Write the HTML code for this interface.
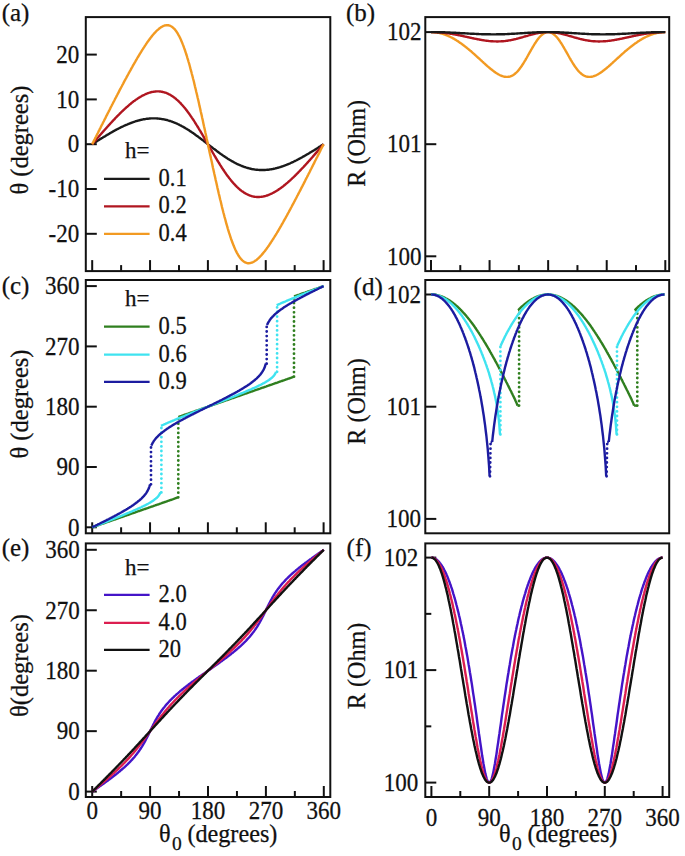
<!DOCTYPE html>
<html><head><meta charset="utf-8"><style>
html,body{margin:0;padding:0;background:#fff;}
body{width:685px;height:856px;overflow:hidden;font-family:"Liberation Serif",serif;}
svg{display:block;}
text{stroke:#111;stroke-width:0.25px;}
</style></head><body><svg width="685" height="856" viewBox="0 0 685 856" font-family='"Liberation Serif", serif' fill="#111"><rect x="85.80" y="17.10" width="244.50" height="254.00" fill="none" stroke="#111" stroke-width="2"/>
<line x1="92.20" y1="271.10" x2="92.20" y2="260.10" stroke="#111" stroke-width="2"/>
<line x1="121.12" y1="271.10" x2="121.12" y2="265.10" stroke="#111" stroke-width="2"/>
<line x1="150.05" y1="271.10" x2="150.05" y2="260.10" stroke="#111" stroke-width="2"/>
<line x1="178.98" y1="271.10" x2="178.98" y2="265.10" stroke="#111" stroke-width="2"/>
<line x1="207.90" y1="271.10" x2="207.90" y2="260.10" stroke="#111" stroke-width="2"/>
<line x1="236.83" y1="271.10" x2="236.83" y2="265.10" stroke="#111" stroke-width="2"/>
<line x1="265.75" y1="271.10" x2="265.75" y2="260.10" stroke="#111" stroke-width="2"/>
<line x1="294.68" y1="271.10" x2="294.68" y2="265.10" stroke="#111" stroke-width="2"/>
<line x1="323.60" y1="271.10" x2="323.60" y2="260.10" stroke="#111" stroke-width="2"/>
<line x1="85.80" y1="54.60" x2="96.80" y2="54.60" stroke="#111" stroke-width="2"/>
<line x1="85.80" y1="99.40" x2="96.80" y2="99.40" stroke="#111" stroke-width="2"/>
<line x1="85.80" y1="144.20" x2="96.80" y2="144.20" stroke="#111" stroke-width="2"/>
<line x1="85.80" y1="189.00" x2="96.80" y2="189.00" stroke="#111" stroke-width="2"/>
<line x1="85.80" y1="233.80" x2="96.80" y2="233.80" stroke="#111" stroke-width="2"/>
<path d="M92.2,144.2 L92.8,143.8 L93.5,143.4 L94.1,143.0 L94.8,142.6 L95.4,142.2 L96.1,141.8 L96.7,141.4 L97.3,140.9 L98.0,140.5 L98.6,140.1 L99.3,139.7 L99.9,139.3 L100.6,138.9 L101.2,138.5 L101.8,138.1 L102.5,137.7 L103.1,137.3 L103.8,137.0 L104.4,136.6 L105.1,136.2 L105.7,135.8 L106.3,135.4 L107.0,135.0 L107.6,134.6 L108.3,134.3 L108.9,133.9 L109.6,133.5 L110.2,133.1 L110.8,132.8 L111.5,132.4 L112.1,132.0 L112.8,131.7 L113.4,131.3 L114.1,130.9 L114.7,130.6 L115.3,130.2 L116.0,129.9 L116.6,129.5 L117.3,129.2 L117.9,128.9 L118.6,128.5 L119.2,128.2 L119.8,127.9 L120.5,127.6 L121.1,127.2 L121.8,126.9 L122.4,126.6 L123.1,126.3 L123.7,126.0 L124.3,125.7 L125.0,125.4 L125.6,125.1 L126.3,124.8 L126.9,124.6 L127.6,124.3 L128.2,124.0 L128.8,123.8 L129.5,123.5 L130.1,123.3 L130.8,123.0 L131.4,122.8 L132.1,122.5 L132.7,122.3 L133.3,122.1 L134.0,121.9 L134.6,121.6 L135.3,121.4 L135.9,121.2 L136.6,121.0 L137.2,120.8 L137.8,120.7 L138.5,120.5 L139.1,120.3 L139.8,120.2 L140.4,120.0 L141.1,119.8 L141.7,119.7 L142.3,119.6 L143.0,119.4 L143.6,119.3 L144.3,119.2 L144.9,119.1 L145.6,119.0 L146.2,118.9 L146.8,118.8 L147.5,118.7 L148.1,118.7 L148.8,118.6 L149.4,118.5 L150.1,118.5 L150.7,118.4 L151.3,118.4 L152.0,118.4 L152.6,118.4 L153.3,118.4 L153.9,118.4 L154.5,118.4 L155.2,118.4 L155.8,118.4 L156.5,118.4 L157.1,118.5 L157.8,118.5 L158.4,118.6 L159.0,118.6 L159.7,118.7 L160.3,118.8 L161.0,118.9 L161.6,119.0 L162.3,119.1 L162.9,119.2 L163.5,119.3 L164.2,119.4 L164.8,119.6 L165.5,119.7 L166.1,119.9 L166.8,120.0 L167.4,120.2 L168.0,120.4 L168.7,120.6 L169.3,120.8 L170.0,121.0 L170.6,121.2 L171.3,121.4 L171.9,121.6 L172.5,121.9 L173.2,122.1 L173.8,122.4 L174.5,122.6 L175.1,122.9 L175.8,123.2 L176.4,123.4 L177.0,123.7 L177.7,124.0 L178.3,124.3 L179.0,124.6 L179.6,125.0 L180.3,125.3 L180.9,125.6 L181.5,126.0 L182.2,126.3 L182.8,126.7 L183.5,127.0 L184.1,127.4 L184.8,127.8 L185.4,128.2 L186.0,128.5 L186.7,128.9 L187.3,129.3 L188.0,129.7 L188.6,130.1 L189.3,130.6 L189.9,131.0 L190.5,131.4 L191.2,131.8 L191.8,132.3 L192.5,132.7 L193.1,133.1 L193.8,133.6 L194.4,134.1 L195.0,134.5 L195.7,135.0 L196.3,135.4 L197.0,135.9 L197.6,136.4 L198.3,136.8 L198.9,137.3 L199.5,137.8 L200.2,138.3 L200.8,138.8 L201.5,139.3 L202.1,139.7 L202.8,140.2 L203.4,140.7 L204.0,141.2 L204.7,141.7 L205.3,142.2 L206.0,142.7 L206.6,143.2 L207.3,143.7 L207.9,144.2 L208.5,144.7 L209.2,145.2 L209.8,145.7 L210.5,146.2 L211.1,146.7 L211.8,147.2 L212.4,147.7 L213.0,148.2 L213.7,148.7 L214.3,149.1 L215.0,149.6 L215.6,150.1 L216.3,150.6 L216.9,151.1 L217.5,151.6 L218.2,152.0 L218.8,152.5 L219.5,153.0 L220.1,153.4 L220.8,153.9 L221.4,154.3 L222.0,154.8 L222.7,155.3 L223.3,155.7 L224.0,156.1 L224.6,156.6 L225.3,157.0 L225.9,157.4 L226.5,157.8 L227.2,158.3 L227.8,158.7 L228.5,159.1 L229.1,159.5 L229.8,159.9 L230.4,160.2 L231.0,160.6 L231.7,161.0 L232.3,161.4 L233.0,161.7 L233.6,162.1 L234.3,162.4 L234.9,162.8 L235.5,163.1 L236.2,163.4 L236.8,163.8 L237.5,164.1 L238.1,164.4 L238.8,164.7 L239.4,165.0 L240.0,165.2 L240.7,165.5 L241.3,165.8 L242.0,166.0 L242.6,166.3 L243.3,166.5 L243.9,166.8 L244.5,167.0 L245.2,167.2 L245.8,167.4 L246.5,167.6 L247.1,167.8 L247.8,168.0 L248.4,168.2 L249.0,168.4 L249.7,168.5 L250.3,168.7 L251.0,168.8 L251.6,169.0 L252.3,169.1 L252.9,169.2 L253.5,169.3 L254.2,169.4 L254.8,169.5 L255.5,169.6 L256.1,169.7 L256.8,169.8 L257.4,169.8 L258.0,169.9 L258.7,169.9 L259.3,170.0 L260.0,170.0 L260.6,170.0 L261.3,170.0 L261.9,170.0 L262.5,170.0 L263.2,170.0 L263.8,170.0 L264.5,170.0 L265.1,170.0 L265.8,169.9 L266.4,169.9 L267.0,169.8 L267.7,169.7 L268.3,169.7 L269.0,169.6 L269.6,169.5 L270.2,169.4 L270.9,169.3 L271.5,169.2 L272.2,169.1 L272.8,169.0 L273.5,168.8 L274.1,168.7 L274.7,168.6 L275.4,168.4 L276.0,168.2 L276.7,168.1 L277.3,167.9 L278.0,167.7 L278.6,167.6 L279.2,167.4 L279.9,167.2 L280.5,167.0 L281.2,166.8 L281.8,166.5 L282.5,166.3 L283.1,166.1 L283.7,165.9 L284.4,165.6 L285.0,165.4 L285.7,165.1 L286.3,164.9 L287.0,164.6 L287.6,164.4 L288.2,164.1 L288.9,163.8 L289.5,163.6 L290.2,163.3 L290.8,163.0 L291.5,162.7 L292.1,162.4 L292.7,162.1 L293.4,161.8 L294.0,161.5 L294.7,161.2 L295.3,160.8 L296.0,160.5 L296.6,160.2 L297.2,159.9 L297.9,159.5 L298.5,159.2 L299.2,158.9 L299.8,158.5 L300.5,158.2 L301.1,157.8 L301.7,157.5 L302.4,157.1 L303.0,156.7 L303.7,156.4 L304.3,156.0 L305.0,155.6 L305.6,155.3 L306.2,154.9 L306.9,154.5 L307.5,154.1 L308.2,153.8 L308.8,153.4 L309.5,153.0 L310.1,152.6 L310.7,152.2 L311.4,151.8 L312.0,151.4 L312.7,151.1 L313.3,150.7 L314.0,150.3 L314.6,149.9 L315.2,149.5 L315.9,149.1 L316.5,148.7 L317.2,148.3 L317.8,147.9 L318.5,147.5 L319.1,147.0 L319.7,146.6 L320.4,146.2 L321.0,145.8 L321.7,145.4 L322.3,145.0 L323.0,144.6 L323.6,144.2" fill="none" stroke="#1a1a1a" stroke-width="2.4" stroke-linejoin="round"/>
<path d="M92.2,144.2 L92.8,143.5 L93.5,142.7 L94.1,142.0 L94.8,141.2 L95.4,140.5 L96.1,139.7 L96.7,139.0 L97.3,138.2 L98.0,137.5 L98.6,136.8 L99.3,136.0 L99.9,135.3 L100.6,134.5 L101.2,133.8 L101.8,133.1 L102.5,132.3 L103.1,131.6 L103.8,130.9 L104.4,130.1 L105.1,129.4 L105.7,128.7 L106.3,128.0 L107.0,127.3 L107.6,126.5 L108.3,125.8 L108.9,125.1 L109.6,124.4 L110.2,123.7 L110.8,123.0 L111.5,122.3 L112.1,121.6 L112.8,120.9 L113.4,120.2 L114.1,119.6 L114.7,118.9 L115.3,118.2 L116.0,117.5 L116.6,116.9 L117.3,116.2 L117.9,115.5 L118.6,114.9 L119.2,114.3 L119.8,113.6 L120.5,113.0 L121.1,112.3 L121.8,111.7 L122.4,111.1 L123.1,110.5 L123.7,109.9 L124.3,109.3 L125.0,108.7 L125.6,108.1 L126.3,107.5 L126.9,106.9 L127.6,106.4 L128.2,105.8 L128.8,105.3 L129.5,104.7 L130.1,104.2 L130.8,103.7 L131.4,103.1 L132.1,102.6 L132.7,102.1 L133.3,101.6 L134.0,101.1 L134.6,100.7 L135.3,100.2 L135.9,99.7 L136.6,99.3 L137.2,98.9 L137.8,98.4 L138.5,98.0 L139.1,97.6 L139.8,97.2 L140.4,96.8 L141.1,96.5 L141.7,96.1 L142.3,95.7 L143.0,95.4 L143.6,95.1 L144.3,94.8 L144.9,94.5 L145.6,94.2 L146.2,93.9 L146.8,93.6 L147.5,93.4 L148.1,93.1 L148.8,92.9 L149.4,92.7 L150.1,92.5 L150.7,92.3 L151.3,92.2 L152.0,92.0 L152.6,91.9 L153.3,91.8 L153.9,91.7 L154.5,91.6 L155.2,91.5 L155.8,91.5 L156.5,91.4 L157.1,91.4 L157.8,91.4 L158.4,91.4 L159.0,91.4 L159.7,91.5 L160.3,91.5 L161.0,91.6 L161.6,91.7 L162.3,91.8 L162.9,92.0 L163.5,92.1 L164.2,92.3 L164.8,92.5 L165.5,92.7 L166.1,92.9 L166.8,93.2 L167.4,93.5 L168.0,93.7 L168.7,94.1 L169.3,94.4 L170.0,94.7 L170.6,95.1 L171.3,95.5 L171.9,95.9 L172.5,96.3 L173.2,96.8 L173.8,97.2 L174.5,97.7 L175.1,98.2 L175.8,98.7 L176.4,99.3 L177.0,99.8 L177.7,100.4 L178.3,101.0 L179.0,101.6 L179.6,102.3 L180.3,102.9 L180.9,103.6 L181.5,104.3 L182.2,105.0 L182.8,105.7 L183.5,106.5 L184.1,107.2 L184.8,108.0 L185.4,108.8 L186.0,109.6 L186.7,110.4 L187.3,111.3 L188.0,112.2 L188.6,113.0 L189.3,113.9 L189.9,114.8 L190.5,115.7 L191.2,116.7 L191.8,117.6 L192.5,118.6 L193.1,119.6 L193.8,120.5 L194.4,121.5 L195.0,122.5 L195.7,123.6 L196.3,124.6 L197.0,125.6 L197.6,126.7 L198.3,127.7 L198.9,128.8 L199.5,129.8 L200.2,130.9 L200.8,132.0 L201.5,133.1 L202.1,134.2 L202.8,135.3 L203.4,136.4 L204.0,137.5 L204.7,138.6 L205.3,139.7 L206.0,140.8 L206.6,142.0 L207.3,143.1 L207.9,144.2 L208.5,145.3 L209.2,146.4 L209.8,147.6 L210.5,148.7 L211.1,149.8 L211.8,150.9 L212.4,152.0 L213.0,153.1 L213.7,154.2 L214.3,155.3 L215.0,156.4 L215.6,157.5 L216.3,158.6 L216.9,159.6 L217.5,160.7 L218.2,161.7 L218.8,162.8 L219.5,163.8 L220.1,164.8 L220.8,165.9 L221.4,166.9 L222.0,167.9 L222.7,168.8 L223.3,169.8 L224.0,170.8 L224.6,171.7 L225.3,172.7 L225.9,173.6 L226.5,174.5 L227.2,175.4 L227.8,176.2 L228.5,177.1 L229.1,178.0 L229.8,178.8 L230.4,179.6 L231.0,180.4 L231.7,181.2 L232.3,181.9 L233.0,182.7 L233.6,183.4 L234.3,184.1 L234.9,184.8 L235.5,185.5 L236.2,186.1 L236.8,186.8 L237.5,187.4 L238.1,188.0 L238.8,188.6 L239.4,189.1 L240.0,189.7 L240.7,190.2 L241.3,190.7 L242.0,191.2 L242.6,191.6 L243.3,192.1 L243.9,192.5 L244.5,192.9 L245.2,193.3 L245.8,193.7 L246.5,194.0 L247.1,194.3 L247.8,194.7 L248.4,194.9 L249.0,195.2 L249.7,195.5 L250.3,195.7 L251.0,195.9 L251.6,196.1 L252.3,196.3 L252.9,196.4 L253.5,196.6 L254.2,196.7 L254.8,196.8 L255.5,196.9 L256.1,196.9 L256.8,197.0 L257.4,197.0 L258.0,197.0 L258.7,197.0 L259.3,197.0 L260.0,196.9 L260.6,196.9 L261.3,196.8 L261.9,196.7 L262.5,196.6 L263.2,196.5 L263.8,196.4 L264.5,196.2 L265.1,196.1 L265.8,195.9 L266.4,195.7 L267.0,195.5 L267.7,195.3 L268.3,195.0 L269.0,194.8 L269.6,194.5 L270.2,194.2 L270.9,193.9 L271.5,193.6 L272.2,193.3 L272.8,193.0 L273.5,192.7 L274.1,192.3 L274.7,191.9 L275.4,191.6 L276.0,191.2 L276.7,190.8 L277.3,190.4 L278.0,190.0 L278.6,189.5 L279.2,189.1 L279.9,188.7 L280.5,188.2 L281.2,187.7 L281.8,187.3 L282.5,186.8 L283.1,186.3 L283.7,185.8 L284.4,185.3 L285.0,184.7 L285.7,184.2 L286.3,183.7 L287.0,183.1 L287.6,182.6 L288.2,182.0 L288.9,181.5 L289.5,180.9 L290.2,180.3 L290.8,179.7 L291.5,179.1 L292.1,178.5 L292.7,177.9 L293.4,177.3 L294.0,176.7 L294.7,176.1 L295.3,175.4 L296.0,174.8 L296.6,174.1 L297.2,173.5 L297.9,172.9 L298.5,172.2 L299.2,171.5 L299.8,170.9 L300.5,170.2 L301.1,169.5 L301.7,168.8 L302.4,168.2 L303.0,167.5 L303.7,166.8 L304.3,166.1 L305.0,165.4 L305.6,164.7 L306.2,164.0 L306.9,163.3 L307.5,162.6 L308.2,161.9 L308.8,161.1 L309.5,160.4 L310.1,159.7 L310.7,159.0 L311.4,158.3 L312.0,157.5 L312.7,156.8 L313.3,156.1 L314.0,155.3 L314.6,154.6 L315.2,153.9 L315.9,153.1 L316.5,152.4 L317.2,151.6 L317.8,150.9 L318.5,150.2 L319.1,149.4 L319.7,148.7 L320.4,147.9 L321.0,147.2 L321.7,146.4 L322.3,145.7 L323.0,144.9 L323.6,144.2" fill="none" stroke="#b01620" stroke-width="2.4" stroke-linejoin="round"/>
<path d="M92.2,144.2 L92.8,142.9 L93.5,141.6 L94.1,140.4 L94.8,139.1 L95.4,137.8 L96.1,136.5 L96.7,135.2 L97.3,134.0 L98.0,132.7 L98.6,131.4 L99.3,130.1 L99.9,128.9 L100.6,127.6 L101.2,126.3 L101.8,125.0 L102.5,123.8 L103.1,122.5 L103.8,121.2 L104.4,119.9 L105.1,118.7 L105.7,117.4 L106.3,116.1 L107.0,114.9 L107.6,113.6 L108.3,112.3 L108.9,111.1 L109.6,109.8 L110.2,108.6 L110.8,107.3 L111.5,106.0 L112.1,104.8 L112.8,103.5 L113.4,102.3 L114.1,101.0 L114.7,99.8 L115.3,98.5 L116.0,97.3 L116.6,96.1 L117.3,94.8 L117.9,93.6 L118.6,92.4 L119.2,91.1 L119.8,89.9 L120.5,88.7 L121.1,87.5 L121.8,86.2 L122.4,85.0 L123.1,83.8 L123.7,82.6 L124.3,81.4 L125.0,80.2 L125.6,79.0 L126.3,77.8 L126.9,76.6 L127.6,75.4 L128.2,74.3 L128.8,73.1 L129.5,71.9 L130.1,70.8 L130.8,69.6 L131.4,68.4 L132.1,67.3 L132.7,66.1 L133.3,65.0 L134.0,63.9 L134.6,62.8 L135.3,61.6 L135.9,60.5 L136.6,59.4 L137.2,58.3 L137.8,57.2 L138.5,56.2 L139.1,55.1 L139.8,54.0 L140.4,53.0 L141.1,51.9 L141.7,50.9 L142.3,49.9 L143.0,48.9 L143.6,47.9 L144.3,46.9 L144.9,45.9 L145.6,44.9 L146.2,44.0 L146.8,43.0 L147.5,42.1 L148.1,41.2 L148.8,40.3 L149.4,39.4 L150.1,38.6 L150.7,37.7 L151.3,36.9 L152.0,36.1 L152.6,35.3 L153.3,34.5 L153.9,33.8 L154.5,33.1 L155.2,32.4 L155.8,31.7 L156.5,31.0 L157.1,30.4 L157.8,29.8 L158.4,29.3 L159.0,28.7 L159.7,28.2 L160.3,27.8 L161.0,27.3 L161.6,26.9 L162.3,26.6 L162.9,26.2 L163.5,25.9 L164.2,25.7 L164.8,25.5 L165.5,25.4 L166.1,25.3 L166.8,25.2 L167.4,25.2 L168.0,25.2 L168.7,25.3 L169.3,25.5 L170.0,25.7 L170.6,26.0 L171.3,26.3 L171.9,26.8 L172.5,27.2 L173.2,27.8 L173.8,28.4 L174.5,29.0 L175.1,29.8 L175.8,30.6 L176.4,31.5 L177.0,32.4 L177.7,33.5 L178.3,34.6 L179.0,35.8 L179.6,37.0 L180.3,38.4 L180.9,39.8 L181.5,41.2 L182.2,42.8 L182.8,44.4 L183.5,46.1 L184.1,47.9 L184.8,49.7 L185.4,51.6 L186.0,53.5 L186.7,55.5 L187.3,57.6 L188.0,59.8 L188.6,62.0 L189.3,64.2 L189.9,66.5 L190.5,68.9 L191.2,71.3 L191.8,73.7 L192.5,76.2 L193.1,78.7 L193.8,81.3 L194.4,83.9 L195.0,86.6 L195.7,89.2 L196.3,92.0 L197.0,94.7 L197.6,97.5 L198.3,100.3 L198.9,103.1 L199.5,105.9 L200.2,108.8 L200.8,111.7 L201.5,114.6 L202.1,117.5 L202.8,120.4 L203.4,123.4 L204.0,126.3 L204.7,129.3 L205.3,132.3 L206.0,135.2 L206.6,138.2 L207.3,141.2 L207.9,144.2 L208.5,147.2 L209.2,150.2 L209.8,153.2 L210.5,156.1 L211.1,159.1 L211.8,162.1 L212.4,165.0 L213.0,168.0 L213.7,170.9 L214.3,173.8 L215.0,176.7 L215.6,179.6 L216.3,182.5 L216.9,185.3 L217.5,188.1 L218.2,190.9 L218.8,193.7 L219.5,196.4 L220.1,199.2 L220.8,201.8 L221.4,204.5 L222.0,207.1 L222.7,209.7 L223.3,212.2 L224.0,214.7 L224.6,217.1 L225.3,219.5 L225.9,221.9 L226.5,224.2 L227.2,226.4 L227.8,228.6 L228.5,230.8 L229.1,232.9 L229.8,234.9 L230.4,236.8 L231.0,238.7 L231.7,240.5 L232.3,242.3 L233.0,244.0 L233.6,245.6 L234.3,247.2 L234.9,248.6 L235.5,250.0 L236.2,251.4 L236.8,252.6 L237.5,253.8 L238.1,254.9 L238.8,256.0 L239.4,256.9 L240.0,257.8 L240.7,258.6 L241.3,259.4 L242.0,260.0 L242.6,260.6 L243.3,261.2 L243.9,261.6 L244.5,262.1 L245.2,262.4 L245.8,262.7 L246.5,262.9 L247.1,263.1 L247.8,263.2 L248.4,263.2 L249.0,263.2 L249.7,263.1 L250.3,263.0 L251.0,262.9 L251.6,262.7 L252.3,262.5 L252.9,262.2 L253.5,261.8 L254.2,261.5 L254.8,261.1 L255.5,260.6 L256.1,260.2 L256.8,259.7 L257.4,259.1 L258.0,258.6 L258.7,258.0 L259.3,257.4 L260.0,256.7 L260.6,256.0 L261.3,255.3 L261.9,254.6 L262.5,253.9 L263.2,253.1 L263.8,252.3 L264.5,251.5 L265.1,250.7 L265.8,249.8 L266.4,249.0 L267.0,248.1 L267.7,247.2 L268.3,246.3 L269.0,245.4 L269.6,244.4 L270.2,243.5 L270.9,242.5 L271.5,241.5 L272.2,240.5 L272.8,239.5 L273.5,238.5 L274.1,237.5 L274.7,236.5 L275.4,235.4 L276.0,234.4 L276.7,233.3 L277.3,232.2 L278.0,231.2 L278.6,230.1 L279.2,229.0 L279.9,227.9 L280.5,226.8 L281.2,225.6 L281.8,224.5 L282.5,223.4 L283.1,222.3 L283.7,221.1 L284.4,220.0 L285.0,218.8 L285.7,217.6 L286.3,216.5 L287.0,215.3 L287.6,214.1 L288.2,213.0 L288.9,211.8 L289.5,210.6 L290.2,209.4 L290.8,208.2 L291.5,207.0 L292.1,205.8 L292.7,204.6 L293.4,203.4 L294.0,202.2 L294.7,200.9 L295.3,199.7 L296.0,198.5 L296.6,197.3 L297.2,196.0 L297.9,194.8 L298.5,193.6 L299.2,192.3 L299.8,191.1 L300.5,189.9 L301.1,188.6 L301.7,187.4 L302.4,186.1 L303.0,184.9 L303.7,183.6 L304.3,182.4 L305.0,181.1 L305.6,179.8 L306.2,178.6 L306.9,177.3 L307.5,176.1 L308.2,174.8 L308.8,173.5 L309.5,172.3 L310.1,171.0 L310.7,169.7 L311.4,168.5 L312.0,167.2 L312.7,165.9 L313.3,164.6 L314.0,163.4 L314.6,162.1 L315.2,160.8 L315.9,159.5 L316.5,158.3 L317.2,157.0 L317.8,155.7 L318.5,154.4 L319.1,153.2 L319.7,151.9 L320.4,150.6 L321.0,149.3 L321.7,148.0 L322.3,146.8 L323.0,145.5 L323.6,144.2" fill="none" stroke="#f29a22" stroke-width="2.4" stroke-linejoin="round"/>
<rect x="425.30" y="17.10" width="243.90" height="254.00" fill="none" stroke="#111" stroke-width="2"/>
<line x1="431.00" y1="271.10" x2="431.00" y2="260.10" stroke="#111" stroke-width="2"/>
<line x1="460.29" y1="271.10" x2="460.29" y2="265.10" stroke="#111" stroke-width="2"/>
<line x1="489.57" y1="271.10" x2="489.57" y2="260.10" stroke="#111" stroke-width="2"/>
<line x1="518.86" y1="271.10" x2="518.86" y2="265.10" stroke="#111" stroke-width="2"/>
<line x1="548.15" y1="271.10" x2="548.15" y2="260.10" stroke="#111" stroke-width="2"/>
<line x1="577.44" y1="271.10" x2="577.44" y2="265.10" stroke="#111" stroke-width="2"/>
<line x1="606.72" y1="271.10" x2="606.72" y2="260.10" stroke="#111" stroke-width="2"/>
<line x1="636.01" y1="271.10" x2="636.01" y2="265.10" stroke="#111" stroke-width="2"/>
<line x1="665.30" y1="271.10" x2="665.30" y2="260.10" stroke="#111" stroke-width="2"/>
<line x1="425.30" y1="32.10" x2="436.30" y2="32.10" stroke="#111" stroke-width="2"/>
<line x1="425.30" y1="144.20" x2="436.30" y2="144.20" stroke="#111" stroke-width="2"/>
<line x1="425.30" y1="256.30" x2="436.30" y2="256.30" stroke="#111" stroke-width="2"/>
<path d="M431.0,32.1 L431.7,32.1 L432.3,32.1 L433.0,32.2 L433.6,32.2 L434.3,32.2 L434.9,32.3 L435.6,32.4 L436.2,32.5 L436.9,32.6 L437.5,32.7 L438.2,32.8 L438.8,32.9 L439.5,33.0 L440.1,33.2 L440.8,33.3 L441.4,33.5 L442.1,33.7 L442.7,33.9 L443.4,34.1 L444.0,34.3 L444.7,34.5 L445.3,34.8 L446.0,35.0 L446.6,35.3 L447.3,35.5 L447.9,35.8 L448.6,36.1 L449.2,36.4 L449.9,36.7 L450.5,37.0 L451.2,37.3 L451.8,37.7 L452.5,38.0 L453.1,38.4 L453.8,38.7 L454.4,39.1 L455.1,39.5 L455.7,39.9 L456.4,40.3 L457.0,40.7 L457.7,41.1 L458.3,41.5 L459.0,42.0 L459.6,42.4 L460.3,42.9 L460.9,43.3 L461.6,43.8 L462.2,44.3 L462.9,44.8 L463.5,45.3 L464.2,45.8 L464.8,46.3 L465.5,46.8 L466.1,47.3 L466.8,47.8 L467.4,48.3 L468.1,48.9 L468.7,49.4 L469.4,50.0 L470.1,50.5 L470.7,51.1 L471.4,51.6 L472.0,52.2 L472.7,52.8 L473.3,53.3 L474.0,53.9 L474.6,54.5 L475.3,55.1 L475.9,55.7 L476.6,56.3 L477.2,56.9 L477.9,57.5 L478.5,58.0 L479.2,58.6 L479.8,59.2 L480.5,59.8 L481.1,60.4 L481.8,61.0 L482.4,61.6 L483.1,62.2 L483.7,62.8 L484.4,63.4 L485.0,64.0 L485.7,64.6 L486.3,65.2 L487.0,65.7 L487.6,66.3 L488.3,66.9 L488.9,67.4 L489.6,68.0 L490.2,68.5 L490.9,69.0 L491.5,69.6 L492.2,70.1 L492.8,70.6 L493.5,71.1 L494.1,71.6 L494.8,72.0 L495.4,72.5 L496.1,72.9 L496.7,73.3 L497.4,73.7 L498.0,74.1 L498.7,74.5 L499.3,74.8 L500.0,75.2 L500.6,75.5 L501.3,75.7 L501.9,76.0 L502.6,76.2 L503.2,76.4 L503.9,76.6 L504.5,76.7 L505.2,76.8 L505.8,76.9 L506.5,76.9 L507.1,76.9 L507.8,76.9 L508.4,76.8 L509.1,76.7 L509.8,76.6 L510.4,76.4 L511.1,76.1 L511.7,75.9 L512.4,75.5 L513.0,75.2 L513.7,74.7 L514.3,74.3 L515.0,73.8 L515.6,73.2 L516.3,72.6 L516.9,72.0 L517.6,71.3 L518.2,70.6 L518.9,69.8 L519.5,69.0 L520.2,68.1 L520.8,67.2 L521.5,66.3 L522.1,65.3 L522.8,64.3 L523.4,63.3 L524.1,62.2 L524.7,61.2 L525.4,60.1 L526.0,58.9 L526.7,57.8 L527.3,56.7 L528.0,55.5 L528.6,54.3 L529.3,53.2 L529.9,52.0 L530.6,50.9 L531.2,49.7 L531.9,48.6 L532.5,47.5 L533.2,46.4 L533.8,45.3 L534.5,44.2 L535.1,43.2 L535.8,42.2 L536.4,41.3 L537.1,40.3 L537.7,39.4 L538.4,38.6 L539.0,37.8 L539.7,37.0 L540.3,36.3 L541.0,35.7 L541.6,35.1 L542.3,34.5 L542.9,34.0 L543.6,33.6 L544.2,33.2 L544.9,32.9 L545.5,32.6 L546.2,32.4 L546.8,32.2 L547.5,32.1 L548.1,32.1 L548.8,32.1 L549.5,32.2 L550.1,32.4 L550.8,32.6 L551.4,32.9 L552.1,33.2 L552.7,33.6 L553.4,34.0 L554.0,34.5 L554.7,35.1 L555.3,35.7 L556.0,36.3 L556.6,37.0 L557.3,37.8 L557.9,38.6 L558.6,39.4 L559.2,40.3 L559.9,41.3 L560.5,42.2 L561.2,43.2 L561.8,44.2 L562.5,45.3 L563.1,46.4 L563.8,47.5 L564.4,48.6 L565.1,49.7 L565.7,50.9 L566.4,52.0 L567.0,53.2 L567.7,54.3 L568.3,55.5 L569.0,56.7 L569.6,57.8 L570.3,58.9 L570.9,60.1 L571.6,61.2 L572.2,62.2 L572.9,63.3 L573.5,64.3 L574.2,65.3 L574.8,66.3 L575.5,67.2 L576.1,68.1 L576.8,69.0 L577.4,69.8 L578.1,70.6 L578.7,71.3 L579.4,72.0 L580.0,72.6 L580.7,73.2 L581.3,73.8 L582.0,74.3 L582.6,74.7 L583.3,75.2 L583.9,75.5 L584.6,75.9 L585.2,76.1 L585.9,76.4 L586.5,76.6 L587.2,76.7 L587.9,76.8 L588.5,76.9 L589.2,76.9 L589.8,76.9 L590.5,76.9 L591.1,76.8 L591.8,76.7 L592.4,76.6 L593.1,76.4 L593.7,76.2 L594.4,76.0 L595.0,75.7 L595.7,75.5 L596.3,75.2 L597.0,74.8 L597.6,74.5 L598.3,74.1 L598.9,73.7 L599.6,73.3 L600.2,72.9 L600.9,72.5 L601.5,72.0 L602.2,71.6 L602.8,71.1 L603.5,70.6 L604.1,70.1 L604.8,69.6 L605.4,69.0 L606.1,68.5 L606.7,68.0 L607.4,67.4 L608.0,66.9 L608.7,66.3 L609.3,65.7 L610.0,65.2 L610.6,64.6 L611.3,64.0 L611.9,63.4 L612.6,62.8 L613.2,62.2 L613.9,61.6 L614.5,61.0 L615.2,60.4 L615.8,59.8 L616.5,59.2 L617.1,58.6 L617.8,58.0 L618.4,57.5 L619.1,56.9 L619.7,56.3 L620.4,55.7 L621.0,55.1 L621.7,54.5 L622.3,53.9 L623.0,53.3 L623.6,52.8 L624.3,52.2 L624.9,51.6 L625.6,51.1 L626.2,50.5 L626.9,50.0 L627.6,49.4 L628.2,48.9 L628.9,48.3 L629.5,47.8 L630.2,47.3 L630.8,46.8 L631.5,46.3 L632.1,45.8 L632.8,45.3 L633.4,44.8 L634.1,44.3 L634.7,43.8 L635.4,43.3 L636.0,42.9 L636.7,42.4 L637.3,42.0 L638.0,41.5 L638.6,41.1 L639.3,40.7 L639.9,40.3 L640.6,39.9 L641.2,39.5 L641.9,39.1 L642.5,38.7 L643.2,38.4 L643.8,38.0 L644.5,37.7 L645.1,37.3 L645.8,37.0 L646.4,36.7 L647.1,36.4 L647.7,36.1 L648.4,35.8 L649.0,35.5 L649.7,35.3 L650.3,35.0 L651.0,34.8 L651.6,34.5 L652.3,34.3 L652.9,34.1 L653.6,33.9 L654.2,33.7 L654.9,33.5 L655.5,33.3 L656.2,33.2 L656.8,33.0 L657.5,32.9 L658.1,32.8 L658.8,32.7 L659.4,32.6 L660.1,32.5 L660.7,32.4 L661.4,32.3 L662.0,32.2 L662.7,32.2 L663.3,32.2 L664.0,32.1 L664.6,32.1 L665.3,32.1" fill="none" stroke="#f29a22" stroke-width="2.4" stroke-linejoin="round"/>
<path d="M431.0,32.1 L431.7,32.1 L432.3,32.1 L433.0,32.1 L433.6,32.1 L434.3,32.1 L434.9,32.2 L435.6,32.2 L436.2,32.2 L436.9,32.3 L437.5,32.3 L438.2,32.3 L438.8,32.4 L439.5,32.4 L440.1,32.5 L440.8,32.5 L441.4,32.6 L442.1,32.6 L442.7,32.7 L443.4,32.8 L444.0,32.8 L444.7,32.9 L445.3,33.0 L446.0,33.1 L446.6,33.2 L447.3,33.2 L447.9,33.3 L448.6,33.4 L449.2,33.5 L449.9,33.6 L450.5,33.7 L451.2,33.8 L451.8,33.9 L452.5,34.0 L453.1,34.2 L453.8,34.3 L454.4,34.4 L455.1,34.5 L455.7,34.6 L456.4,34.8 L457.0,34.9 L457.7,35.0 L458.3,35.1 L459.0,35.3 L459.6,35.4 L460.3,35.5 L460.9,35.7 L461.6,35.8 L462.2,35.9 L462.9,36.1 L463.5,36.2 L464.2,36.4 L464.8,36.5 L465.5,36.6 L466.1,36.8 L466.8,36.9 L467.4,37.1 L468.1,37.2 L468.7,37.4 L469.4,37.5 L470.1,37.6 L470.7,37.8 L471.4,37.9 L472.0,38.1 L472.7,38.2 L473.3,38.3 L474.0,38.5 L474.6,38.6 L475.3,38.8 L475.9,38.9 L476.6,39.0 L477.2,39.2 L477.9,39.3 L478.5,39.4 L479.2,39.5 L479.8,39.7 L480.5,39.8 L481.1,39.9 L481.8,40.0 L482.4,40.1 L483.1,40.2 L483.7,40.3 L484.4,40.4 L485.0,40.5 L485.7,40.6 L486.3,40.7 L487.0,40.8 L487.6,40.9 L488.3,40.9 L488.9,41.0 L489.6,41.1 L490.2,41.1 L490.9,41.2 L491.5,41.2 L492.2,41.3 L492.8,41.3 L493.5,41.4 L494.1,41.4 L494.8,41.4 L495.4,41.4 L496.1,41.4 L496.7,41.5 L497.4,41.5 L498.0,41.5 L498.7,41.4 L499.3,41.4 L500.0,41.4 L500.6,41.4 L501.3,41.3 L501.9,41.3 L502.6,41.3 L503.2,41.2 L503.9,41.1 L504.5,41.1 L505.2,41.0 L505.8,40.9 L506.5,40.8 L507.1,40.7 L507.8,40.7 L508.4,40.5 L509.1,40.4 L509.8,40.3 L510.4,40.2 L511.1,40.1 L511.7,39.9 L512.4,39.8 L513.0,39.7 L513.7,39.5 L514.3,39.4 L515.0,39.2 L515.6,39.1 L516.3,38.9 L516.9,38.7 L517.6,38.6 L518.2,38.4 L518.9,38.2 L519.5,38.0 L520.2,37.8 L520.8,37.7 L521.5,37.5 L522.1,37.3 L522.8,37.1 L523.4,36.9 L524.1,36.7 L524.7,36.5 L525.4,36.3 L526.0,36.1 L526.7,36.0 L527.3,35.8 L528.0,35.6 L528.6,35.4 L529.3,35.2 L529.9,35.0 L530.6,34.8 L531.2,34.7 L531.9,34.5 L532.5,34.3 L533.2,34.2 L533.8,34.0 L534.5,33.8 L535.1,33.7 L535.8,33.5 L536.4,33.4 L537.1,33.3 L537.7,33.1 L538.4,33.0 L539.0,32.9 L539.7,32.8 L540.3,32.7 L541.0,32.6 L541.6,32.5 L542.3,32.4 L542.9,32.4 L543.6,32.3 L544.2,32.3 L544.9,32.2 L545.5,32.2 L546.2,32.1 L546.8,32.1 L547.5,32.1 L548.1,32.1 L548.8,32.1 L549.5,32.1 L550.1,32.1 L550.8,32.2 L551.4,32.2 L552.1,32.3 L552.7,32.3 L553.4,32.4 L554.0,32.4 L554.7,32.5 L555.3,32.6 L556.0,32.7 L556.6,32.8 L557.3,32.9 L557.9,33.0 L558.6,33.1 L559.2,33.3 L559.9,33.4 L560.5,33.5 L561.2,33.7 L561.8,33.8 L562.5,34.0 L563.1,34.2 L563.8,34.3 L564.4,34.5 L565.1,34.7 L565.7,34.8 L566.4,35.0 L567.0,35.2 L567.7,35.4 L568.3,35.6 L569.0,35.8 L569.6,36.0 L570.3,36.1 L570.9,36.3 L571.6,36.5 L572.2,36.7 L572.9,36.9 L573.5,37.1 L574.2,37.3 L574.8,37.5 L575.5,37.7 L576.1,37.8 L576.8,38.0 L577.4,38.2 L578.1,38.4 L578.7,38.6 L579.4,38.7 L580.0,38.9 L580.7,39.1 L581.3,39.2 L582.0,39.4 L582.6,39.5 L583.3,39.7 L583.9,39.8 L584.6,39.9 L585.2,40.1 L585.9,40.2 L586.5,40.3 L587.2,40.4 L587.9,40.5 L588.5,40.7 L589.2,40.7 L589.8,40.8 L590.5,40.9 L591.1,41.0 L591.8,41.1 L592.4,41.1 L593.1,41.2 L593.7,41.3 L594.4,41.3 L595.0,41.3 L595.7,41.4 L596.3,41.4 L597.0,41.4 L597.6,41.4 L598.3,41.5 L598.9,41.5 L599.6,41.5 L600.2,41.4 L600.9,41.4 L601.5,41.4 L602.2,41.4 L602.8,41.4 L603.5,41.3 L604.1,41.3 L604.8,41.2 L605.4,41.2 L606.1,41.1 L606.7,41.1 L607.4,41.0 L608.0,40.9 L608.7,40.9 L609.3,40.8 L610.0,40.7 L610.6,40.6 L611.3,40.5 L611.9,40.4 L612.6,40.3 L613.2,40.2 L613.9,40.1 L614.5,40.0 L615.2,39.9 L615.8,39.8 L616.5,39.7 L617.1,39.5 L617.8,39.4 L618.4,39.3 L619.1,39.2 L619.7,39.0 L620.4,38.9 L621.0,38.8 L621.7,38.6 L622.3,38.5 L623.0,38.3 L623.6,38.2 L624.3,38.1 L624.9,37.9 L625.6,37.8 L626.2,37.6 L626.9,37.5 L627.6,37.4 L628.2,37.2 L628.9,37.1 L629.5,36.9 L630.2,36.8 L630.8,36.6 L631.5,36.5 L632.1,36.4 L632.8,36.2 L633.4,36.1 L634.1,35.9 L634.7,35.8 L635.4,35.7 L636.0,35.5 L636.7,35.4 L637.3,35.3 L638.0,35.1 L638.6,35.0 L639.3,34.9 L639.9,34.8 L640.6,34.6 L641.2,34.5 L641.9,34.4 L642.5,34.3 L643.2,34.2 L643.8,34.0 L644.5,33.9 L645.1,33.8 L645.8,33.7 L646.4,33.6 L647.1,33.5 L647.7,33.4 L648.4,33.3 L649.0,33.2 L649.7,33.2 L650.3,33.1 L651.0,33.0 L651.6,32.9 L652.3,32.8 L652.9,32.8 L653.6,32.7 L654.2,32.6 L654.9,32.6 L655.5,32.5 L656.2,32.5 L656.8,32.4 L657.5,32.4 L658.1,32.3 L658.8,32.3 L659.4,32.3 L660.1,32.2 L660.7,32.2 L661.4,32.2 L662.0,32.1 L662.7,32.1 L663.3,32.1 L664.0,32.1 L664.6,32.1 L665.3,32.1" fill="none" stroke="#b01620" stroke-width="2.4" stroke-linejoin="round"/>
<path d="M431.0,32.1 L431.7,32.1 L432.3,32.1 L433.0,32.1 L433.6,32.1 L434.3,32.1 L434.9,32.1 L435.6,32.1 L436.2,32.1 L436.9,32.1 L437.5,32.2 L438.2,32.2 L438.8,32.2 L439.5,32.2 L440.1,32.2 L440.8,32.2 L441.4,32.2 L442.1,32.3 L442.7,32.3 L443.4,32.3 L444.0,32.3 L444.7,32.3 L445.3,32.4 L446.0,32.4 L446.6,32.4 L447.3,32.4 L447.9,32.5 L448.6,32.5 L449.2,32.5 L449.9,32.5 L450.5,32.6 L451.2,32.6 L451.8,32.6 L452.5,32.7 L453.1,32.7 L453.8,32.7 L454.4,32.8 L455.1,32.8 L455.7,32.8 L456.4,32.9 L457.0,32.9 L457.7,32.9 L458.3,33.0 L459.0,33.0 L459.6,33.0 L460.3,33.1 L460.9,33.1 L461.6,33.2 L462.2,33.2 L462.9,33.2 L463.5,33.3 L464.2,33.3 L464.8,33.3 L465.5,33.4 L466.1,33.4 L466.8,33.4 L467.4,33.5 L468.1,33.5 L468.7,33.6 L469.4,33.6 L470.1,33.6 L470.7,33.7 L471.4,33.7 L472.0,33.7 L472.7,33.8 L473.3,33.8 L474.0,33.8 L474.6,33.9 L475.3,33.9 L475.9,33.9 L476.6,34.0 L477.2,34.0 L477.9,34.0 L478.5,34.0 L479.2,34.1 L479.8,34.1 L480.5,34.1 L481.1,34.1 L481.8,34.2 L482.4,34.2 L483.1,34.2 L483.7,34.2 L484.4,34.2 L485.0,34.3 L485.7,34.3 L486.3,34.3 L487.0,34.3 L487.6,34.3 L488.3,34.3 L488.9,34.3 L489.6,34.3 L490.2,34.3 L490.9,34.4 L491.5,34.4 L492.2,34.4 L492.8,34.4 L493.5,34.4 L494.1,34.4 L494.8,34.4 L495.4,34.4 L496.1,34.4 L496.7,34.3 L497.4,34.3 L498.0,34.3 L498.7,34.3 L499.3,34.3 L500.0,34.3 L500.6,34.3 L501.3,34.3 L501.9,34.2 L502.6,34.2 L503.2,34.2 L503.9,34.2 L504.5,34.2 L505.2,34.1 L505.8,34.1 L506.5,34.1 L507.1,34.1 L507.8,34.0 L508.4,34.0 L509.1,34.0 L509.8,33.9 L510.4,33.9 L511.1,33.9 L511.7,33.8 L512.4,33.8 L513.0,33.8 L513.7,33.7 L514.3,33.7 L515.0,33.6 L515.6,33.6 L516.3,33.6 L516.9,33.5 L517.6,33.5 L518.2,33.4 L518.9,33.4 L519.5,33.4 L520.2,33.3 L520.8,33.3 L521.5,33.2 L522.1,33.2 L522.8,33.1 L523.4,33.1 L524.1,33.1 L524.7,33.0 L525.4,33.0 L526.0,32.9 L526.7,32.9 L527.3,32.9 L528.0,32.8 L528.6,32.8 L529.3,32.7 L529.9,32.7 L530.6,32.7 L531.2,32.6 L531.9,32.6 L532.5,32.5 L533.2,32.5 L533.8,32.5 L534.5,32.5 L535.1,32.4 L535.8,32.4 L536.4,32.4 L537.1,32.3 L537.7,32.3 L538.4,32.3 L539.0,32.3 L539.7,32.2 L540.3,32.2 L541.0,32.2 L541.6,32.2 L542.3,32.2 L542.9,32.2 L543.6,32.1 L544.2,32.1 L544.9,32.1 L545.5,32.1 L546.2,32.1 L546.8,32.1 L547.5,32.1 L548.1,32.1 L548.8,32.1 L549.5,32.1 L550.1,32.1 L550.8,32.1 L551.4,32.1 L552.1,32.1 L552.7,32.1 L553.4,32.2 L554.0,32.2 L554.7,32.2 L555.3,32.2 L556.0,32.2 L556.6,32.2 L557.3,32.3 L557.9,32.3 L558.6,32.3 L559.2,32.3 L559.9,32.4 L560.5,32.4 L561.2,32.4 L561.8,32.5 L562.5,32.5 L563.1,32.5 L563.8,32.5 L564.4,32.6 L565.1,32.6 L565.7,32.7 L566.4,32.7 L567.0,32.7 L567.7,32.8 L568.3,32.8 L569.0,32.9 L569.6,32.9 L570.3,32.9 L570.9,33.0 L571.6,33.0 L572.2,33.1 L572.9,33.1 L573.5,33.1 L574.2,33.2 L574.8,33.2 L575.5,33.3 L576.1,33.3 L576.8,33.4 L577.4,33.4 L578.1,33.4 L578.7,33.5 L579.4,33.5 L580.0,33.6 L580.7,33.6 L581.3,33.6 L582.0,33.7 L582.6,33.7 L583.3,33.8 L583.9,33.8 L584.6,33.8 L585.2,33.9 L585.9,33.9 L586.5,33.9 L587.2,34.0 L587.9,34.0 L588.5,34.0 L589.2,34.1 L589.8,34.1 L590.5,34.1 L591.1,34.1 L591.8,34.2 L592.4,34.2 L593.1,34.2 L593.7,34.2 L594.4,34.2 L595.0,34.3 L595.7,34.3 L596.3,34.3 L597.0,34.3 L597.6,34.3 L598.3,34.3 L598.9,34.3 L599.6,34.3 L600.2,34.4 L600.9,34.4 L601.5,34.4 L602.2,34.4 L602.8,34.4 L603.5,34.4 L604.1,34.4 L604.8,34.4 L605.4,34.4 L606.1,34.3 L606.7,34.3 L607.4,34.3 L608.0,34.3 L608.7,34.3 L609.3,34.3 L610.0,34.3 L610.6,34.3 L611.3,34.3 L611.9,34.2 L612.6,34.2 L613.2,34.2 L613.9,34.2 L614.5,34.2 L615.2,34.1 L615.8,34.1 L616.5,34.1 L617.1,34.1 L617.8,34.0 L618.4,34.0 L619.1,34.0 L619.7,34.0 L620.4,33.9 L621.0,33.9 L621.7,33.9 L622.3,33.8 L623.0,33.8 L623.6,33.8 L624.3,33.7 L624.9,33.7 L625.6,33.7 L626.2,33.6 L626.9,33.6 L627.6,33.6 L628.2,33.5 L628.9,33.5 L629.5,33.4 L630.2,33.4 L630.8,33.4 L631.5,33.3 L632.1,33.3 L632.8,33.3 L633.4,33.2 L634.1,33.2 L634.7,33.2 L635.4,33.1 L636.0,33.1 L636.7,33.0 L637.3,33.0 L638.0,33.0 L638.6,32.9 L639.3,32.9 L639.9,32.9 L640.6,32.8 L641.2,32.8 L641.9,32.8 L642.5,32.7 L643.2,32.7 L643.8,32.7 L644.5,32.6 L645.1,32.6 L645.8,32.6 L646.4,32.5 L647.1,32.5 L647.7,32.5 L648.4,32.5 L649.0,32.4 L649.7,32.4 L650.3,32.4 L651.0,32.4 L651.6,32.3 L652.3,32.3 L652.9,32.3 L653.6,32.3 L654.2,32.3 L654.9,32.2 L655.5,32.2 L656.2,32.2 L656.8,32.2 L657.5,32.2 L658.1,32.2 L658.8,32.2 L659.4,32.1 L660.1,32.1 L660.7,32.1 L661.4,32.1 L662.0,32.1 L662.7,32.1 L663.3,32.1 L664.0,32.1 L664.6,32.1 L665.3,32.1" fill="none" stroke="#1a1a1a" stroke-width="2.4" stroke-linejoin="round"/>
<rect x="85.80" y="280.00" width="244.50" height="253.30" fill="none" stroke="#111" stroke-width="2"/>
<line x1="92.20" y1="533.30" x2="92.20" y2="522.30" stroke="#111" stroke-width="2"/>
<line x1="121.12" y1="533.30" x2="121.12" y2="527.30" stroke="#111" stroke-width="2"/>
<line x1="150.05" y1="533.30" x2="150.05" y2="522.30" stroke="#111" stroke-width="2"/>
<line x1="178.98" y1="533.30" x2="178.98" y2="527.30" stroke="#111" stroke-width="2"/>
<line x1="207.90" y1="533.30" x2="207.90" y2="522.30" stroke="#111" stroke-width="2"/>
<line x1="236.83" y1="533.30" x2="236.83" y2="527.30" stroke="#111" stroke-width="2"/>
<line x1="265.75" y1="533.30" x2="265.75" y2="522.30" stroke="#111" stroke-width="2"/>
<line x1="294.68" y1="533.30" x2="294.68" y2="527.30" stroke="#111" stroke-width="2"/>
<line x1="323.60" y1="533.30" x2="323.60" y2="522.30" stroke="#111" stroke-width="2"/>
<line x1="85.80" y1="286.10" x2="96.80" y2="286.10" stroke="#111" stroke-width="2"/>
<line x1="85.80" y1="346.40" x2="96.80" y2="346.40" stroke="#111" stroke-width="2"/>
<line x1="85.80" y1="406.70" x2="96.80" y2="406.70" stroke="#111" stroke-width="2"/>
<line x1="85.80" y1="467.00" x2="96.80" y2="467.00" stroke="#111" stroke-width="2"/>
<line x1="85.80" y1="527.30" x2="96.80" y2="527.30" stroke="#111" stroke-width="2"/>
<rect x="425.30" y="280.00" width="243.90" height="253.30" fill="none" stroke="#111" stroke-width="2"/>
<line x1="425.30" y1="294.50" x2="436.30" y2="294.50" stroke="#111" stroke-width="2"/>
<line x1="425.30" y1="406.70" x2="436.30" y2="406.70" stroke="#111" stroke-width="2"/>
<line x1="425.30" y1="518.90" x2="436.30" y2="518.90" stroke="#111" stroke-width="2"/>
<path d="M92.2,527.3 L92.8,527.1 L93.5,526.9 L94.1,526.6 L94.8,526.4 L95.4,526.2 L96.1,526.0 L96.7,525.7 L97.3,525.5 L98.0,525.3 L98.6,525.1 L99.3,524.8 L99.9,524.6 L100.6,524.4 L101.2,524.2 L101.8,523.9 L102.5,523.7 L103.1,523.5 L103.8,523.3 L104.4,523.1 L105.1,522.8 L105.7,522.6 L106.3,522.4 L107.0,522.2 L107.6,521.9 L108.3,521.7 L108.9,521.5 L109.6,521.3 L110.2,521.0 L110.8,520.8 L111.5,520.6 L112.1,520.4 L112.8,520.2 L113.4,519.9 L114.1,519.7 L114.7,519.5 L115.3,519.3 L116.0,519.0 L116.6,518.8 L117.3,518.6 L117.9,518.4 L118.6,518.1 L119.2,517.9 L119.8,517.7 L120.5,517.5 L121.1,517.2 L121.8,517.0 L122.4,516.8 L123.1,516.6 L123.7,516.4 L124.3,516.1 L125.0,515.9 L125.6,515.7 L126.3,515.5 L126.9,515.2 L127.6,515.0 L128.2,514.8 L128.8,514.6 L129.5,514.3 L130.1,514.1 L130.8,513.9 L131.4,513.7 L132.1,513.4 L132.7,513.2 L133.3,513.0 L134.0,512.8 L134.6,512.6 L135.3,512.3 L135.9,512.1 L136.6,511.9 L137.2,511.7 L137.8,511.4 L138.5,511.2 L139.1,511.0 L139.8,510.8 L140.4,510.5 L141.1,510.3 L141.7,510.1 L142.3,509.9 L143.0,509.6 L143.6,509.4 L144.3,509.2 L144.9,509.0 L145.6,508.8 L146.2,508.5 L146.8,508.3 L147.5,508.1 L148.1,507.9 L148.8,507.6 L149.4,507.4 L150.1,507.2 L150.7,507.0 L151.3,506.7 L152.0,506.5 L152.6,506.3 L153.3,506.1 L153.9,505.8 L154.5,505.6 L155.2,505.4 L155.8,505.2 L156.5,505.0 L157.1,504.7 L157.8,504.5 L158.4,504.3 L159.0,504.1 L159.7,503.8 L160.3,503.6 L161.0,503.4 L161.6,503.2 L162.3,502.9 L162.9,502.7 L163.5,502.5 L164.2,502.3 L164.8,502.0 L165.5,501.8 L166.1,501.6 L166.8,501.4 L167.4,501.1 L168.0,500.9 L168.7,500.7 L169.3,500.5 L170.0,500.2 L170.6,500.0 L171.3,499.8 L171.9,499.6 L172.5,499.3 L173.2,499.1 L173.8,498.9 L174.5,498.6 L175.1,498.4 L175.8,498.2 L176.4,497.9 L177.0,497.7 L177.7,497.3" fill="none" stroke="#2f7f1f" stroke-width="2.4" stroke-linejoin="round"/>
<path d="M178.3,417.0 L179.0,416.8 L179.6,416.5 L180.3,416.3 L180.9,416.1 L181.5,415.9 L182.2,415.6 L182.8,415.4 L183.5,415.2 L184.1,415.0 L184.8,414.7 L185.4,414.5 L186.0,414.3 L186.7,414.1 L187.3,413.8 L188.0,413.6 L188.6,413.4 L189.3,413.2 L189.9,413.0 L190.5,412.7 L191.2,412.5 L191.8,412.3 L192.5,412.1 L193.1,411.8 L193.8,411.6 L194.4,411.4 L195.0,411.2 L195.7,410.9 L196.3,410.7 L197.0,410.5 L197.6,410.3 L198.3,410.1 L198.9,409.8 L199.5,409.6 L200.2,409.4 L200.8,409.2 L201.5,408.9 L202.1,408.7 L202.8,408.5 L203.4,408.3 L204.0,408.0 L204.7,407.8 L205.3,407.6 L206.0,407.4 L206.6,407.1 L207.3,406.9 L207.9,406.7 L208.5,406.5 L209.2,406.3 L209.8,406.0 L210.5,405.8 L211.1,405.6 L211.8,405.4 L212.4,405.1 L213.0,404.9 L213.7,404.7 L214.3,404.5 L215.0,404.2 L215.6,404.0 L216.3,403.8 L216.9,403.6 L217.5,403.3 L218.2,403.1 L218.8,402.9 L219.5,402.7 L220.1,402.5 L220.8,402.2 L221.4,402.0 L222.0,401.8 L222.7,401.6 L223.3,401.3 L224.0,401.1 L224.6,400.9 L225.3,400.7 L225.9,400.4 L226.5,400.2 L227.2,400.0 L227.8,399.8 L228.5,399.6 L229.1,399.3 L229.8,399.1 L230.4,398.9 L231.0,398.7 L231.7,398.4 L232.3,398.2 L233.0,398.0 L233.6,397.8 L234.3,397.5 L234.9,397.3 L235.5,397.1 L236.2,396.9 L236.8,396.6 L237.5,396.4 L238.1,396.2 L238.8,396.0 L239.4,395.8 L240.0,395.5 L240.7,395.3 L241.3,395.1 L242.0,394.9 L242.6,394.6 L243.3,394.4 L243.9,394.2 L244.5,394.0 L245.2,393.7 L245.8,393.5 L246.5,393.3 L247.1,393.1 L247.8,392.8 L248.4,392.6 L249.0,392.4 L249.7,392.2 L250.3,392.0 L251.0,391.7 L251.6,391.5 L252.3,391.3 L252.9,391.1 L253.5,390.8 L254.2,390.6 L254.8,390.4 L255.5,390.2 L256.1,389.9 L256.8,389.7 L257.4,389.5 L258.0,389.3 L258.7,389.0 L259.3,388.8 L260.0,388.6 L260.6,388.4 L261.3,388.2 L261.9,387.9 L262.5,387.7 L263.2,387.5 L263.8,387.3 L264.5,387.0 L265.1,386.8 L265.8,386.6 L266.4,386.4 L267.0,386.1 L267.7,385.9 L268.3,385.7 L269.0,385.5 L269.6,385.2 L270.2,385.0 L270.9,384.8 L271.5,384.6 L272.2,384.4 L272.8,384.1 L273.5,383.9 L274.1,383.7 L274.7,383.5 L275.4,383.2 L276.0,383.0 L276.7,382.8 L277.3,382.6 L278.0,382.3 L278.6,382.1 L279.2,381.9 L279.9,381.7 L280.5,381.4 L281.2,381.2 L281.8,381.0 L282.5,380.8 L283.1,380.5 L283.7,380.3 L284.4,380.1 L285.0,379.9 L285.7,379.6 L286.3,379.4 L287.0,379.2 L287.6,379.0 L288.2,378.7 L288.9,378.5 L289.5,378.3 L290.2,378.0 L290.8,377.8 L291.5,377.6 L292.1,377.3 L292.7,377.1 L293.4,376.7" fill="none" stroke="#2f7f1f" stroke-width="2.4" stroke-linejoin="round"/>
<path d="M294.0,296.4 L294.7,296.2 L295.3,295.9 L296.0,295.7 L296.6,295.5 L297.2,295.3 L297.9,295.0 L298.5,294.8 L299.2,294.6 L299.8,294.4 L300.5,294.1 L301.1,293.9 L301.7,293.7 L302.4,293.5 L303.0,293.2 L303.7,293.0 L304.3,292.8 L305.0,292.6 L305.6,292.4 L306.2,292.1 L306.9,291.9 L307.5,291.7 L308.2,291.5 L308.8,291.2 L309.5,291.0 L310.1,290.8 L310.7,290.6 L311.4,290.3 L312.0,290.1 L312.7,289.9 L313.3,289.7 L314.0,289.5 L314.6,289.2 L315.2,289.0 L315.9,288.8 L316.5,288.6 L317.2,288.3 L317.8,288.1 L318.5,287.9 L319.1,287.7 L319.7,287.4 L320.4,287.2 L321.0,287.0 L321.7,286.8 L322.3,286.5 L323.0,286.3 L323.6,286.1" fill="none" stroke="#2f7f1f" stroke-width="2.4" stroke-linejoin="round"/>
<path d="M178.3,497.3 L178.3,417.0" fill="none" stroke="#2f7f1f" stroke-width="2.8" stroke-dasharray="0 4.6" stroke-linecap="round"/>
<path d="M177.7,497.3 L178.3,497.3" fill="none" stroke="#2f7f1f" stroke-width="2.4" stroke-linejoin="round"/>
<path d="M294.0,376.7 L294.0,296.4" fill="none" stroke="#2f7f1f" stroke-width="2.8" stroke-dasharray="0 4.6" stroke-linecap="round"/>
<path d="M293.4,376.7 L294.0,376.7" fill="none" stroke="#2f7f1f" stroke-width="2.4" stroke-linejoin="round"/>
<path d="M431.3,294.5 L431.9,294.5 L432.6,294.5 L433.2,294.6 L433.9,294.6 L434.5,294.7 L435.2,294.8 L435.8,294.9 L436.5,295.0 L437.1,295.1 L437.8,295.3 L438.4,295.4 L439.1,295.6 L439.7,295.8 L440.4,296.0 L441.0,296.2 L441.7,296.4 L442.3,296.7 L443.0,297.0 L443.6,297.2 L444.3,297.5 L444.9,297.8 L445.6,298.2 L446.2,298.5 L446.8,298.8 L447.5,299.2 L448.1,299.6 L448.8,300.0 L449.4,300.4 L450.1,300.8 L450.7,301.3 L451.4,301.7 L452.0,302.2 L452.7,302.7 L453.3,303.2 L454.0,303.7 L454.6,304.2 L455.3,304.7 L455.9,305.3 L456.6,305.9 L457.2,306.4 L457.9,307.0 L458.5,307.6 L459.2,308.3 L459.8,308.9 L460.4,309.5 L461.1,310.2 L461.7,310.9 L462.4,311.6 L463.0,312.3 L463.7,313.0 L464.3,313.7 L465.0,314.4 L465.6,315.2 L466.3,315.9 L466.9,316.7 L467.6,317.5 L468.2,318.3 L468.9,319.1 L469.5,319.9 L470.2,320.8 L470.8,321.6 L471.5,322.5 L472.1,323.3 L472.8,324.2 L473.4,325.1 L474.1,326.0 L474.7,326.9 L475.3,327.8 L476.0,328.8 L476.6,329.7 L477.3,330.7 L477.9,331.6 L478.6,332.6 L479.2,333.6 L479.9,334.6 L480.5,335.6 L481.2,336.6 L481.8,337.7 L482.5,338.7 L483.1,339.7 L483.8,340.8 L484.4,341.8 L485.1,342.9 L485.7,344.0 L486.4,345.1 L487.0,346.2 L487.7,347.3 L488.3,348.4 L489.0,349.5 L489.6,350.6 L490.2,351.8 L490.9,352.9 L491.5,354.1 L492.2,355.2 L492.8,356.4 L493.5,357.6 L494.1,358.7 L494.8,359.9 L495.4,361.1 L496.1,362.3 L496.7,363.5 L497.4,364.7 L498.0,366.0 L498.7,367.2 L499.3,368.4 L500.0,369.6 L500.6,370.9 L501.3,372.1 L501.9,373.4 L502.6,374.6 L503.2,375.9 L503.9,377.1 L504.5,378.4 L505.1,379.7 L505.8,380.9 L506.4,382.2 L507.1,383.5 L507.7,384.8 L508.4,386.1 L509.0,387.4 L509.7,388.7 L510.3,390.0 L511.0,391.3 L511.6,392.6 L512.3,393.9 L512.9,395.3 L513.6,396.6 L514.2,397.9 L514.9,399.3 L515.5,400.7 L516.2,402.1 L516.8,403.7 L517.5,405.6" fill="none" stroke="#2f7f1f" stroke-width="2.4" stroke-linejoin="round"/>
<path d="M518.1,310.2 L518.8,309.5 L519.4,308.9 L520.0,308.3 L520.7,307.6 L521.3,307.0 L522.0,306.4 L522.6,305.9 L523.3,305.3 L523.9,304.7 L524.6,304.2 L525.2,303.7 L525.9,303.2 L526.5,302.7 L527.2,302.2 L527.8,301.7 L528.5,301.3 L529.1,300.8 L529.8,300.4 L530.4,300.0 L531.1,299.6 L531.7,299.2 L532.4,298.8 L533.0,298.5 L533.6,298.2 L534.3,297.8 L534.9,297.5 L535.6,297.2 L536.2,297.0 L536.9,296.7 L537.5,296.4 L538.2,296.2 L538.8,296.0 L539.5,295.8 L540.1,295.6 L540.8,295.4 L541.4,295.3 L542.1,295.1 L542.7,295.0 L543.4,294.9 L544.0,294.8 L544.7,294.7 L545.3,294.6 L546.0,294.6 L546.6,294.5 L547.3,294.5 L547.9,294.5 L548.5,294.5 L549.2,294.5 L549.8,294.6 L550.5,294.6 L551.1,294.7 L551.8,294.8 L552.4,294.9 L553.1,295.0 L553.7,295.1 L554.4,295.3 L555.0,295.4 L555.7,295.6 L556.3,295.8 L557.0,296.0 L557.6,296.2 L558.3,296.4 L558.9,296.7 L559.6,297.0 L560.2,297.2 L560.9,297.5 L561.5,297.8 L562.2,298.2 L562.8,298.5 L563.4,298.8 L564.1,299.2 L564.7,299.6 L565.4,300.0 L566.0,300.4 L566.7,300.8 L567.3,301.3 L568.0,301.7 L568.6,302.2 L569.3,302.7 L569.9,303.2 L570.6,303.7 L571.2,304.2 L571.9,304.7 L572.5,305.3 L573.2,305.9 L573.8,306.4 L574.5,307.0 L575.1,307.6 L575.8,308.3 L576.4,308.9 L577.0,309.5 L577.7,310.2 L578.3,310.9 L579.0,311.6 L579.6,312.3 L580.3,313.0 L580.9,313.7 L581.6,314.4 L582.2,315.2 L582.9,315.9 L583.5,316.7 L584.2,317.5 L584.8,318.3 L585.5,319.1 L586.1,319.9 L586.8,320.8 L587.4,321.6 L588.1,322.5 L588.7,323.3 L589.4,324.2 L590.0,325.1 L590.7,326.0 L591.3,326.9 L591.9,327.8 L592.6,328.8 L593.2,329.7 L593.9,330.7 L594.5,331.6 L595.2,332.6 L595.8,333.6 L596.5,334.6 L597.1,335.6 L597.8,336.6 L598.4,337.7 L599.1,338.7 L599.7,339.7 L600.4,340.8 L601.0,341.8 L601.7,342.9 L602.3,344.0 L603.0,345.1 L603.6,346.2 L604.3,347.3 L604.9,348.4 L605.6,349.5 L606.2,350.6 L606.8,351.8 L607.5,352.9 L608.1,354.1 L608.8,355.2 L609.4,356.4 L610.1,357.6 L610.7,358.7 L611.4,359.9 L612.0,361.1 L612.7,362.3 L613.3,363.5 L614.0,364.7 L614.6,366.0 L615.3,367.2 L615.9,368.4 L616.6,369.6 L617.2,370.9 L617.9,372.1 L618.5,373.4 L619.2,374.6 L619.8,375.9 L620.5,377.1 L621.1,378.4 L621.7,379.7 L622.4,380.9 L623.0,382.2 L623.7,383.5 L624.3,384.8 L625.0,386.1 L625.6,387.4 L626.3,388.7 L626.9,390.0 L627.6,391.3 L628.2,392.6 L628.9,393.9 L629.5,395.3 L630.2,396.6 L630.8,397.9 L631.5,399.3 L632.1,400.7 L632.8,402.1 L633.4,403.7 L634.1,405.6" fill="none" stroke="#2f7f1f" stroke-width="2.4" stroke-linejoin="round"/>
<path d="M634.7,310.2 L635.4,309.5 L636.0,308.9 L636.6,308.3 L637.3,307.6 L637.9,307.0 L638.6,306.4 L639.2,305.9 L639.9,305.3 L640.5,304.7 L641.2,304.2 L641.8,303.7 L642.5,303.2 L643.1,302.7 L643.8,302.2 L644.4,301.7 L645.1,301.3 L645.7,300.8 L646.4,300.4 L647.0,300.0 L647.7,299.6 L648.3,299.2 L649.0,298.8 L649.6,298.5 L650.2,298.2 L650.9,297.8 L651.5,297.5 L652.2,297.2 L652.8,297.0 L653.5,296.7 L654.1,296.4 L654.8,296.2 L655.4,296.0 L656.1,295.8 L656.7,295.6 L657.4,295.4 L658.0,295.3 L658.7,295.1 L659.3,295.0 L660.0,294.9 L660.6,294.8 L661.3,294.7 L661.9,294.6 L662.6,294.6 L663.2,294.5 L663.9,294.5 L664.5,294.5" fill="none" stroke="#2f7f1f" stroke-width="2.4" stroke-linejoin="round"/>
<path d="M519.1,405.6 L519.1,310.2" fill="none" stroke="#2f7f1f" stroke-width="2.8" stroke-dasharray="0 4.6" stroke-linecap="round"/>
<path d="M517.5,405.6 L519.1,405.6" fill="none" stroke="#2f7f1f" stroke-width="2.4" stroke-linejoin="round"/>
<path d="M519.1,310.2 L518.1,310.2" fill="none" stroke="#2f7f1f" stroke-width="2.4" stroke-linejoin="round"/>
<path d="M637.3,405.6 L637.3,310.2" fill="none" stroke="#2f7f1f" stroke-width="2.8" stroke-dasharray="0 4.6" stroke-linecap="round"/>
<path d="M634.1,405.6 L637.3,405.6" fill="none" stroke="#2f7f1f" stroke-width="2.4" stroke-linejoin="round"/>
<path d="M637.3,310.2 L634.7,310.2" fill="none" stroke="#2f7f1f" stroke-width="2.4" stroke-linejoin="round"/>
<path d="M92.2,527.3 L92.8,527.0 L93.5,526.8 L94.1,526.5 L94.8,526.3 L95.4,526.0 L96.1,525.8 L96.7,525.5 L97.3,525.3 L98.0,525.0 L98.6,524.8 L99.3,524.5 L99.9,524.3 L100.6,524.0 L101.2,523.8 L101.8,523.5 L102.5,523.3 L103.1,523.0 L103.8,522.8 L104.4,522.5 L105.1,522.3 L105.7,522.0 L106.3,521.8 L107.0,521.5 L107.6,521.3 L108.3,521.0 L108.9,520.7 L109.6,520.5 L110.2,520.2 L110.8,520.0 L111.5,519.7 L112.1,519.5 L112.8,519.2 L113.4,519.0 L114.1,518.7 L114.7,518.4 L115.3,518.2 L116.0,517.9 L116.6,517.7 L117.3,517.4 L117.9,517.2 L118.6,516.9 L119.2,516.6 L119.8,516.4 L120.5,516.1 L121.1,515.9 L121.8,515.6 L122.4,515.3 L123.1,515.1 L123.7,514.8 L124.3,514.5 L125.0,514.3 L125.6,514.0 L126.3,513.7 L126.9,513.5 L127.6,513.2 L128.2,512.9 L128.8,512.7 L129.5,512.4 L130.1,512.1 L130.8,511.8 L131.4,511.6 L132.1,511.3 L132.7,511.0 L133.3,510.7 L134.0,510.5 L134.6,510.2 L135.3,509.9 L135.9,509.6 L136.6,509.3 L137.2,509.0 L137.8,508.7 L138.5,508.5 L139.1,508.2 L139.8,507.9 L140.4,507.6 L141.1,507.3 L141.7,507.0 L142.3,506.6 L143.0,506.3 L143.6,506.0 L144.3,505.7 L144.9,505.4 L145.6,505.1 L146.2,504.7 L146.8,504.4 L147.5,504.0 L148.1,503.7 L148.8,503.3 L149.4,503.0 L150.1,502.6 L150.7,502.2 L151.3,501.8 L152.0,501.4 L152.6,501.0 L153.3,500.6 L153.9,500.1 L154.5,499.6 L155.2,499.1 L155.8,498.6 L156.5,498.1 L157.1,497.4 L157.8,496.8 L158.4,496.0 L159.0,495.1 L159.7,494.0 L160.3,492.4" fill="none" stroke="#3fe3f0" stroke-width="2.4" stroke-linejoin="round"/>
<path d="M161.0,425.8 L161.6,425.5 L162.3,425.3 L162.9,425.0 L163.5,424.7 L164.2,424.4 L164.8,424.1 L165.5,423.8 L166.1,423.5 L166.8,423.3 L167.4,423.0 L168.0,422.7 L168.7,422.4 L169.3,422.2 L170.0,421.9 L170.6,421.6 L171.3,421.3 L171.9,421.1 L172.5,420.8 L173.2,420.5 L173.8,420.3 L174.5,420.0 L175.1,419.7 L175.8,419.5 L176.4,419.2 L177.0,418.9 L177.7,418.7 L178.3,418.4 L179.0,418.1 L179.6,417.9 L180.3,417.6 L180.9,417.4 L181.5,417.1 L182.2,416.8 L182.8,416.6 L183.5,416.3 L184.1,416.1 L184.8,415.8 L185.4,415.6 L186.0,415.3 L186.7,415.0 L187.3,414.8 L188.0,414.5 L188.6,414.3 L189.3,414.0 L189.9,413.8 L190.5,413.5 L191.2,413.3 L191.8,413.0 L192.5,412.7 L193.1,412.5 L193.8,412.2 L194.4,412.0 L195.0,411.7 L195.7,411.5 L196.3,411.2 L197.0,411.0 L197.6,410.7 L198.3,410.5 L198.9,410.2 L199.5,410.0 L200.2,409.7 L200.8,409.5 L201.5,409.2 L202.1,409.0 L202.8,408.7 L203.4,408.5 L204.0,408.2 L204.7,408.0 L205.3,407.7 L206.0,407.5 L206.6,407.2 L207.3,407.0 L207.9,406.7 L208.5,406.4 L209.2,406.2 L209.8,405.9 L210.5,405.7 L211.1,405.4 L211.8,405.2 L212.4,404.9 L213.0,404.7 L213.7,404.4 L214.3,404.2 L215.0,403.9 L215.6,403.7 L216.3,403.4 L216.9,403.2 L217.5,402.9 L218.2,402.7 L218.8,402.4 L219.5,402.2 L220.1,401.9 L220.8,401.7 L221.4,401.4 L222.0,401.2 L222.7,400.9 L223.3,400.7 L224.0,400.4 L224.6,400.1 L225.3,399.9 L225.9,399.6 L226.5,399.4 L227.2,399.1 L227.8,398.9 L228.5,398.6 L229.1,398.4 L229.8,398.1 L230.4,397.8 L231.0,397.6 L231.7,397.3 L232.3,397.1 L233.0,396.8 L233.6,396.6 L234.3,396.3 L234.9,396.0 L235.5,395.8 L236.2,395.5 L236.8,395.3 L237.5,395.0 L238.1,394.7 L238.8,394.5 L239.4,394.2 L240.0,393.9 L240.7,393.7 L241.3,393.4 L242.0,393.1 L242.6,392.9 L243.3,392.6 L243.9,392.3 L244.5,392.1 L245.2,391.8 L245.8,391.5 L246.5,391.2 L247.1,391.0 L247.8,390.7 L248.4,390.4 L249.0,390.1 L249.7,389.9 L250.3,389.6 L251.0,389.3 L251.6,389.0 L252.3,388.7 L252.9,388.4 L253.5,388.1 L254.2,387.9 L254.8,387.6 L255.5,387.3 L256.1,387.0 L256.8,386.7 L257.4,386.4 L258.0,386.0 L258.7,385.7 L259.3,385.4 L260.0,385.1 L260.6,384.8 L261.3,384.5 L261.9,384.1 L262.5,383.8 L263.2,383.4 L263.8,383.1 L264.5,382.7 L265.1,382.4 L265.8,382.0 L266.4,381.6 L267.0,381.2 L267.7,380.8 L268.3,380.4 L269.0,380.0 L269.6,379.5 L270.2,379.0 L270.9,378.5 L271.5,378.0 L272.2,377.5 L272.8,376.8 L273.5,376.2 L274.1,375.4 L274.7,374.5 L275.4,373.4 L276.0,371.8" fill="none" stroke="#3fe3f0" stroke-width="2.4" stroke-linejoin="round"/>
<path d="M276.7,305.2 L277.3,304.9 L278.0,304.7 L278.6,304.4 L279.2,304.1 L279.9,303.8 L280.5,303.5 L281.2,303.2 L281.8,302.9 L282.5,302.7 L283.1,302.4 L283.7,302.1 L284.4,301.8 L285.0,301.6 L285.7,301.3 L286.3,301.0 L287.0,300.7 L287.6,300.5 L288.2,300.2 L288.9,299.9 L289.5,299.7 L290.2,299.4 L290.8,299.1 L291.5,298.9 L292.1,298.6 L292.7,298.3 L293.4,298.1 L294.0,297.8 L294.7,297.5 L295.3,297.3 L296.0,297.0 L296.6,296.8 L297.2,296.5 L297.9,296.2 L298.5,296.0 L299.2,295.7 L299.8,295.5 L300.5,295.2 L301.1,295.0 L301.7,294.7 L302.4,294.4 L303.0,294.2 L303.7,293.9 L304.3,293.7 L305.0,293.4 L305.6,293.2 L306.2,292.9 L306.9,292.7 L307.5,292.4 L308.2,292.1 L308.8,291.9 L309.5,291.6 L310.1,291.4 L310.7,291.1 L311.4,290.9 L312.0,290.6 L312.7,290.4 L313.3,290.1 L314.0,289.9 L314.6,289.6 L315.2,289.4 L315.9,289.1 L316.5,288.9 L317.2,288.6 L317.8,288.4 L318.5,288.1 L319.1,287.9 L319.7,287.6 L320.4,287.4 L321.0,287.1 L321.7,286.9 L322.3,286.6 L323.0,286.4 L323.6,286.1" fill="none" stroke="#3fe3f0" stroke-width="2.4" stroke-linejoin="round"/>
<path d="M161.4,492.4 L161.4,425.8" fill="none" stroke="#3fe3f0" stroke-width="2.8" stroke-dasharray="0 4.6" stroke-linecap="round"/>
<path d="M160.3,492.4 L161.4,492.4" fill="none" stroke="#3fe3f0" stroke-width="2.4" stroke-linejoin="round"/>
<path d="M277.1,371.8 L277.1,305.2" fill="none" stroke="#3fe3f0" stroke-width="2.8" stroke-dasharray="0 4.6" stroke-linecap="round"/>
<path d="M276.0,371.8 L277.1,371.8" fill="none" stroke="#3fe3f0" stroke-width="2.4" stroke-linejoin="round"/>
<path d="M431.3,294.5 L431.9,294.5 L432.6,294.5 L433.2,294.6 L433.9,294.7 L434.5,294.7 L435.2,294.8 L435.8,295.0 L436.5,295.1 L437.1,295.3 L437.8,295.5 L438.4,295.7 L439.1,295.9 L439.7,296.1 L440.4,296.4 L441.0,296.7 L441.7,297.0 L442.3,297.3 L443.0,297.6 L443.6,298.0 L444.3,298.3 L444.9,298.7 L445.6,299.1 L446.2,299.6 L446.8,300.0 L447.5,300.5 L448.1,301.0 L448.8,301.5 L449.4,302.0 L450.1,302.6 L450.7,303.1 L451.4,303.7 L452.0,304.3 L452.7,304.9 L453.3,305.6 L454.0,306.2 L454.6,306.9 L455.3,307.6 L455.9,308.3 L456.6,309.1 L457.2,309.8 L457.9,310.6 L458.5,311.4 L459.2,312.2 L459.8,313.0 L460.4,313.9 L461.1,314.7 L461.7,315.6 L462.4,316.5 L463.0,317.5 L463.7,318.4 L464.3,319.4 L465.0,320.4 L465.6,321.4 L466.3,322.4 L466.9,323.4 L467.6,324.5 L468.2,325.6 L468.9,326.7 L469.5,327.8 L470.2,329.0 L470.8,330.1 L471.5,331.3 L472.1,332.5 L472.8,333.7 L473.4,335.0 L474.1,336.3 L474.7,337.6 L475.3,338.9 L476.0,340.2 L476.6,341.6 L477.3,343.0 L477.9,344.4 L478.6,345.8 L479.2,347.3 L479.9,348.8 L480.5,350.3 L481.2,351.8 L481.8,353.4 L482.5,355.0 L483.1,356.7 L483.8,358.4 L484.4,360.1 L485.1,361.8 L485.7,363.6 L486.4,365.4 L487.0,367.3 L487.7,369.2 L488.3,371.2 L489.0,373.2 L489.6,375.3 L490.2,377.4 L490.9,379.7 L491.5,382.0 L492.2,384.3 L492.8,386.8 L493.5,389.4 L494.1,392.2 L494.8,395.1 L495.4,398.1 L496.1,401.4 L496.7,405.0 L497.4,409.0 L498.0,413.4 L498.7,418.6 L499.3,425.0 L500.0,434.4" fill="none" stroke="#3fe3f0" stroke-width="2.4" stroke-linejoin="round"/>
<path d="M500.6,345.8 L501.3,344.4 L501.9,343.0 L502.6,341.6 L503.2,340.2 L503.9,338.9 L504.5,337.6 L505.1,336.3 L505.8,335.0 L506.4,333.7 L507.1,332.5 L507.7,331.3 L508.4,330.1 L509.0,329.0 L509.7,327.8 L510.3,326.7 L511.0,325.6 L511.6,324.5 L512.3,323.4 L512.9,322.4 L513.6,321.4 L514.2,320.4 L514.9,319.4 L515.5,318.4 L516.2,317.5 L516.8,316.5 L517.5,315.6 L518.1,314.7 L518.8,313.9 L519.4,313.0 L520.0,312.2 L520.7,311.4 L521.3,310.6 L522.0,309.8 L522.6,309.1 L523.3,308.3 L523.9,307.6 L524.6,306.9 L525.2,306.2 L525.9,305.6 L526.5,304.9 L527.2,304.3 L527.8,303.7 L528.5,303.1 L529.1,302.6 L529.8,302.0 L530.4,301.5 L531.1,301.0 L531.7,300.5 L532.4,300.0 L533.0,299.6 L533.6,299.1 L534.3,298.7 L534.9,298.3 L535.6,298.0 L536.2,297.6 L536.9,297.3 L537.5,297.0 L538.2,296.7 L538.8,296.4 L539.5,296.1 L540.1,295.9 L540.8,295.7 L541.4,295.5 L542.1,295.3 L542.7,295.1 L543.4,295.0 L544.0,294.8 L544.7,294.7 L545.3,294.7 L546.0,294.6 L546.6,294.5 L547.3,294.5 L547.9,294.5 L548.5,294.5 L549.2,294.5 L549.8,294.6 L550.5,294.7 L551.1,294.7 L551.8,294.8 L552.4,295.0 L553.1,295.1 L553.7,295.3 L554.4,295.5 L555.0,295.7 L555.7,295.9 L556.3,296.1 L557.0,296.4 L557.6,296.7 L558.3,297.0 L558.9,297.3 L559.6,297.6 L560.2,298.0 L560.9,298.3 L561.5,298.7 L562.2,299.1 L562.8,299.6 L563.4,300.0 L564.1,300.5 L564.7,301.0 L565.4,301.5 L566.0,302.0 L566.7,302.6 L567.3,303.1 L568.0,303.7 L568.6,304.3 L569.3,304.9 L569.9,305.6 L570.6,306.2 L571.2,306.9 L571.9,307.6 L572.5,308.3 L573.2,309.1 L573.8,309.8 L574.5,310.6 L575.1,311.4 L575.8,312.2 L576.4,313.0 L577.0,313.9 L577.7,314.7 L578.3,315.6 L579.0,316.5 L579.6,317.5 L580.3,318.4 L580.9,319.4 L581.6,320.4 L582.2,321.4 L582.9,322.4 L583.5,323.4 L584.2,324.5 L584.8,325.6 L585.5,326.7 L586.1,327.8 L586.8,329.0 L587.4,330.1 L588.1,331.3 L588.7,332.5 L589.4,333.7 L590.0,335.0 L590.7,336.3 L591.3,337.6 L591.9,338.9 L592.6,340.2 L593.2,341.6 L593.9,343.0 L594.5,344.4 L595.2,345.8 L595.8,347.3 L596.5,348.8 L597.1,350.3 L597.8,351.8 L598.4,353.4 L599.1,355.0 L599.7,356.7 L600.4,358.4 L601.0,360.1 L601.7,361.8 L602.3,363.6 L603.0,365.4 L603.6,367.3 L604.3,369.2 L604.9,371.2 L605.6,373.2 L606.2,375.3 L606.8,377.4 L607.5,379.7 L608.1,382.0 L608.8,384.3 L609.4,386.8 L610.1,389.4 L610.7,392.2 L611.4,395.1 L612.0,398.1 L612.7,401.4 L613.3,405.0 L614.0,409.0 L614.6,413.4 L615.3,418.6 L615.9,425.0 L616.6,434.4" fill="none" stroke="#3fe3f0" stroke-width="2.4" stroke-linejoin="round"/>
<path d="M617.2,345.8 L617.9,344.4 L618.5,343.0 L619.2,341.6 L619.8,340.2 L620.5,338.9 L621.1,337.6 L621.7,336.3 L622.4,335.0 L623.0,333.7 L623.7,332.5 L624.3,331.3 L625.0,330.1 L625.6,329.0 L626.3,327.8 L626.9,326.7 L627.6,325.6 L628.2,324.5 L628.9,323.4 L629.5,322.4 L630.2,321.4 L630.8,320.4 L631.5,319.4 L632.1,318.4 L632.8,317.5 L633.4,316.5 L634.1,315.6 L634.7,314.7 L635.4,313.9 L636.0,313.0 L636.6,312.2 L637.3,311.4 L637.9,310.6 L638.6,309.8 L639.2,309.1 L639.9,308.3 L640.5,307.6 L641.2,306.9 L641.8,306.2 L642.5,305.6 L643.1,304.9 L643.8,304.3 L644.4,303.7 L645.1,303.1 L645.7,302.6 L646.4,302.0 L647.0,301.5 L647.7,301.0 L648.3,300.5 L649.0,300.0 L649.6,299.6 L650.2,299.1 L650.9,298.7 L651.5,298.3 L652.2,298.0 L652.8,297.6 L653.5,297.3 L654.1,297.0 L654.8,296.7 L655.4,296.4 L656.1,296.1 L656.7,295.9 L657.4,295.7 L658.0,295.5 L658.7,295.3 L659.3,295.1 L660.0,295.0 L660.6,294.8 L661.3,294.7 L661.9,294.7 L662.6,294.6 L663.2,294.5 L663.9,294.5 L664.5,294.5" fill="none" stroke="#3fe3f0" stroke-width="2.4" stroke-linejoin="round"/>
<path d="M500.4,434.4 L500.4,345.8" fill="none" stroke="#3fe3f0" stroke-width="2.8" stroke-dasharray="0 4.6" stroke-linecap="round"/>
<path d="M500.0,434.4 L500.4,434.4" fill="none" stroke="#3fe3f0" stroke-width="2.4" stroke-linejoin="round"/>
<path d="M500.4,345.8 L500.6,345.8" fill="none" stroke="#3fe3f0" stroke-width="2.4" stroke-linejoin="round"/>
<path d="M617.0,434.4 L617.0,345.8" fill="none" stroke="#3fe3f0" stroke-width="2.8" stroke-dasharray="0 4.6" stroke-linecap="round"/>
<path d="M616.6,434.4 L617.0,434.4" fill="none" stroke="#3fe3f0" stroke-width="2.4" stroke-linejoin="round"/>
<path d="M617.0,345.8 L617.2,345.8" fill="none" stroke="#3fe3f0" stroke-width="2.4" stroke-linejoin="round"/>
<path d="M92.2,527.3 L92.8,527.0 L93.5,526.7 L94.1,526.3 L94.8,526.0 L95.4,525.7 L96.1,525.4 L96.7,525.1 L97.3,524.8 L98.0,524.4 L98.6,524.1 L99.3,523.8 L99.9,523.5 L100.6,523.2 L101.2,522.8 L101.8,522.5 L102.5,522.2 L103.1,521.9 L103.8,521.6 L104.4,521.2 L105.1,520.9 L105.7,520.6 L106.3,520.3 L107.0,519.9 L107.6,519.6 L108.3,519.3 L108.9,519.0 L109.6,518.6 L110.2,518.3 L110.8,518.0 L111.5,517.6 L112.1,517.3 L112.8,517.0 L113.4,516.6 L114.1,516.3 L114.7,515.9 L115.3,515.6 L116.0,515.3 L116.6,514.9 L117.3,514.6 L117.9,514.2 L118.6,513.9 L119.2,513.5 L119.8,513.2 L120.5,512.8 L121.1,512.5 L121.8,512.1 L122.4,511.7 L123.1,511.4 L123.7,511.0 L124.3,510.6 L125.0,510.2 L125.6,509.9 L126.3,509.5 L126.9,509.1 L127.6,508.7 L128.2,508.3 L128.8,507.9 L129.5,507.5 L130.1,507.1 L130.8,506.7 L131.4,506.3 L132.1,505.8 L132.7,505.4 L133.3,505.0 L134.0,504.5 L134.6,504.1 L135.3,503.6 L135.9,503.1 L136.6,502.6 L137.2,502.2 L137.8,501.6 L138.5,501.1 L139.1,500.6 L139.8,500.0 L140.4,499.5 L141.1,498.9 L141.7,498.3 L142.3,497.6 L143.0,497.0 L143.6,496.3 L144.3,495.6 L144.9,494.8 L145.6,493.9 L146.2,493.1 L146.8,492.1 L147.5,491.0 L148.1,489.8 L148.8,488.4 L149.4,486.6 L150.1,484.3" fill="none" stroke="#1c1ca0" stroke-width="2.4" stroke-linejoin="round"/>
<path d="M151.3,445.6 L152.0,444.2 L152.6,443.0 L153.3,441.9 L153.9,440.9 L154.5,440.1 L155.2,439.2 L155.8,438.4 L156.5,437.7 L157.1,437.0 L157.8,436.4 L158.4,435.7 L159.0,435.1 L159.7,434.5 L160.3,434.0 L161.0,433.4 L161.6,432.9 L162.3,432.4 L162.9,431.8 L163.5,431.4 L164.2,430.9 L164.8,430.4 L165.5,429.9 L166.1,429.5 L166.8,429.0 L167.4,428.6 L168.0,428.2 L168.7,427.7 L169.3,427.3 L170.0,426.9 L170.6,426.5 L171.3,426.1 L171.9,425.7 L172.5,425.3 L173.2,424.9 L173.8,424.5 L174.5,424.1 L175.1,423.8 L175.8,423.4 L176.4,423.0 L177.0,422.6 L177.7,422.3 L178.3,421.9 L179.0,421.5 L179.6,421.2 L180.3,420.8 L180.9,420.5 L181.5,420.1 L182.2,419.8 L182.8,419.4 L183.5,419.1 L184.1,418.7 L184.8,418.4 L185.4,418.1 L186.0,417.7 L186.7,417.4 L187.3,417.0 L188.0,416.7 L188.6,416.4 L189.3,416.0 L189.9,415.7 L190.5,415.4 L191.2,415.0 L191.8,414.7 L192.5,414.4 L193.1,414.1 L193.8,413.7 L194.4,413.4 L195.0,413.1 L195.7,412.8 L196.3,412.4 L197.0,412.1 L197.6,411.8 L198.3,411.5 L198.9,411.2 L199.5,410.8 L200.2,410.5 L200.8,410.2 L201.5,409.9 L202.1,409.6 L202.8,409.2 L203.4,408.9 L204.0,408.6 L204.7,408.3 L205.3,408.0 L206.0,407.7 L206.6,407.3 L207.3,407.0 L207.9,406.7 L208.5,406.4 L209.2,406.1 L209.8,405.7 L210.5,405.4 L211.1,405.1 L211.8,404.8 L212.4,404.5 L213.0,404.2 L213.7,403.8 L214.3,403.5 L215.0,403.2 L215.6,402.9 L216.3,402.6 L216.9,402.2 L217.5,401.9 L218.2,401.6 L218.8,401.3 L219.5,401.0 L220.1,400.6 L220.8,400.3 L221.4,400.0 L222.0,399.7 L222.7,399.3 L223.3,399.0 L224.0,398.7 L224.6,398.4 L225.3,398.0 L225.9,397.7 L226.5,397.4 L227.2,397.0 L227.8,396.7 L228.5,396.4 L229.1,396.0 L229.8,395.7 L230.4,395.3 L231.0,395.0 L231.7,394.7 L232.3,394.3 L233.0,394.0 L233.6,393.6 L234.3,393.3 L234.9,392.9 L235.5,392.6 L236.2,392.2 L236.8,391.9 L237.5,391.5 L238.1,391.1 L238.8,390.8 L239.4,390.4 L240.0,390.0 L240.7,389.6 L241.3,389.3 L242.0,388.9 L242.6,388.5 L243.3,388.1 L243.9,387.7 L244.5,387.3 L245.2,386.9 L245.8,386.5 L246.5,386.1 L247.1,385.7 L247.8,385.2 L248.4,384.8 L249.0,384.4 L249.7,383.9 L250.3,383.5 L251.0,383.0 L251.6,382.5 L252.3,382.0 L252.9,381.6 L253.5,381.0 L254.2,380.5 L254.8,380.0 L255.5,379.4 L256.1,378.9 L256.8,378.3 L257.4,377.7 L258.0,377.0 L258.7,376.4 L259.3,375.7 L260.0,375.0 L260.6,374.2 L261.3,373.3 L261.9,372.5 L262.5,371.5 L263.2,370.4 L263.8,369.2 L264.5,367.8 L265.1,366.0 L265.8,363.7" fill="none" stroke="#1c1ca0" stroke-width="2.4" stroke-linejoin="round"/>
<path d="M267.0,325.0 L267.7,323.6 L268.3,322.4 L269.0,321.3 L269.6,320.3 L270.2,319.5 L270.9,318.6 L271.5,317.8 L272.2,317.1 L272.8,316.4 L273.5,315.8 L274.1,315.1 L274.7,314.5 L275.4,313.9 L276.0,313.4 L276.7,312.8 L277.3,312.3 L278.0,311.8 L278.6,311.2 L279.2,310.8 L279.9,310.3 L280.5,309.8 L281.2,309.3 L281.8,308.9 L282.5,308.4 L283.1,308.0 L283.7,307.6 L284.4,307.1 L285.0,306.7 L285.7,306.3 L286.3,305.9 L287.0,305.5 L287.6,305.1 L288.2,304.7 L288.9,304.3 L289.5,303.9 L290.2,303.5 L290.8,303.2 L291.5,302.8 L292.1,302.4 L292.7,302.0 L293.4,301.7 L294.0,301.3 L294.7,300.9 L295.3,300.6 L296.0,300.2 L296.6,299.9 L297.2,299.5 L297.9,299.2 L298.5,298.8 L299.2,298.5 L299.8,298.1 L300.5,297.8 L301.1,297.5 L301.7,297.1 L302.4,296.8 L303.0,296.4 L303.7,296.1 L304.3,295.8 L305.0,295.4 L305.6,295.1 L306.2,294.8 L306.9,294.4 L307.5,294.1 L308.2,293.8 L308.8,293.5 L309.5,293.1 L310.1,292.8 L310.7,292.5 L311.4,292.2 L312.0,291.8 L312.7,291.5 L313.3,291.2 L314.0,290.9 L314.6,290.6 L315.2,290.2 L315.9,289.9 L316.5,289.6 L317.2,289.3 L317.8,289.0 L318.5,288.6 L319.1,288.3 L319.7,288.0 L320.4,287.7 L321.0,287.4 L321.7,287.1 L322.3,286.7 L323.0,286.4 L323.6,286.1" fill="none" stroke="#1c1ca0" stroke-width="2.4" stroke-linejoin="round"/>
<path d="M151.0,484.3 L151.0,445.6" fill="none" stroke="#1c1ca0" stroke-width="2.8" stroke-dasharray="0 4.6" stroke-linecap="round"/>
<path d="M150.1,484.3 L151.0,484.3" fill="none" stroke="#1c1ca0" stroke-width="2.4" stroke-linejoin="round"/>
<path d="M266.7,363.7 L266.7,325.0" fill="none" stroke="#1c1ca0" stroke-width="2.8" stroke-dasharray="0 4.6" stroke-linecap="round"/>
<path d="M265.8,363.7 L266.7,363.7" fill="none" stroke="#1c1ca0" stroke-width="2.4" stroke-linejoin="round"/>
<path d="M431.3,294.5 L431.9,294.5 L432.6,294.6 L433.2,294.6 L433.9,294.7 L434.5,294.9 L435.2,295.1 L435.8,295.3 L436.5,295.5 L437.1,295.7 L437.8,296.0 L438.4,296.4 L439.1,296.7 L439.7,297.1 L440.4,297.5 L441.0,298.0 L441.7,298.4 L442.3,298.9 L443.0,299.5 L443.6,300.1 L444.3,300.7 L444.9,301.3 L445.6,302.0 L446.2,302.7 L446.8,303.4 L447.5,304.2 L448.1,304.9 L448.8,305.8 L449.4,306.6 L450.1,307.5 L450.7,308.4 L451.4,309.4 L452.0,310.4 L452.7,311.4 L453.3,312.5 L454.0,313.6 L454.6,314.7 L455.3,315.9 L455.9,317.1 L456.6,318.3 L457.2,319.6 L457.9,320.9 L458.5,322.2 L459.2,323.6 L459.8,325.0 L460.4,326.4 L461.1,327.9 L461.7,329.4 L462.4,331.0 L463.0,332.6 L463.7,334.3 L464.3,336.0 L465.0,337.7 L465.6,339.5 L466.3,341.3 L466.9,343.2 L467.6,345.1 L468.2,347.0 L468.9,349.0 L469.5,351.1 L470.2,353.2 L470.8,355.4 L471.5,357.6 L472.1,359.9 L472.8,362.2 L473.4,364.7 L474.1,367.1 L474.7,369.7 L475.3,372.3 L476.0,375.0 L476.6,377.8 L477.3,380.7 L477.9,383.6 L478.6,386.7 L479.2,389.9 L479.9,393.1 L480.5,396.6 L481.2,400.1 L481.8,403.8 L482.5,407.7 L483.1,411.7 L483.8,416.0 L484.4,420.5 L485.1,425.3 L485.7,430.5 L486.4,436.0 L487.0,442.0 L487.7,448.7 L488.3,456.2 L489.0,465.1 L489.6,476.3" fill="none" stroke="#1c1ca0" stroke-width="2.4" stroke-linejoin="round"/>
<path d="M492.2,442.0 L492.8,436.0 L493.5,430.5 L494.1,425.3 L494.8,420.5 L495.4,416.0 L496.1,411.7 L496.7,407.7 L497.4,403.8 L498.0,400.1 L498.7,396.6 L499.3,393.1 L500.0,389.9 L500.6,386.7 L501.3,383.6 L501.9,380.7 L502.6,377.8 L503.2,375.0 L503.9,372.3 L504.5,369.7 L505.1,367.1 L505.8,364.7 L506.4,362.2 L507.1,359.9 L507.7,357.6 L508.4,355.4 L509.0,353.2 L509.7,351.1 L510.3,349.0 L511.0,347.0 L511.6,345.1 L512.3,343.2 L512.9,341.3 L513.6,339.5 L514.2,337.7 L514.9,336.0 L515.5,334.3 L516.2,332.6 L516.8,331.0 L517.5,329.4 L518.1,327.9 L518.8,326.4 L519.4,325.0 L520.0,323.6 L520.7,322.2 L521.3,320.9 L522.0,319.6 L522.6,318.3 L523.3,317.1 L523.9,315.9 L524.6,314.7 L525.2,313.6 L525.9,312.5 L526.5,311.4 L527.2,310.4 L527.8,309.4 L528.5,308.4 L529.1,307.5 L529.8,306.6 L530.4,305.8 L531.1,304.9 L531.7,304.2 L532.4,303.4 L533.0,302.7 L533.6,302.0 L534.3,301.3 L534.9,300.7 L535.6,300.1 L536.2,299.5 L536.9,298.9 L537.5,298.4 L538.2,298.0 L538.8,297.5 L539.5,297.1 L540.1,296.7 L540.8,296.4 L541.4,296.0 L542.1,295.7 L542.7,295.5 L543.4,295.3 L544.0,295.1 L544.7,294.9 L545.3,294.7 L546.0,294.6 L546.6,294.6 L547.3,294.5 L547.9,294.5 L548.5,294.5 L549.2,294.6 L549.8,294.6 L550.5,294.7 L551.1,294.9 L551.8,295.1 L552.4,295.3 L553.1,295.5 L553.7,295.7 L554.4,296.0 L555.0,296.4 L555.7,296.7 L556.3,297.1 L557.0,297.5 L557.6,298.0 L558.3,298.4 L558.9,298.9 L559.6,299.5 L560.2,300.1 L560.9,300.7 L561.5,301.3 L562.2,302.0 L562.8,302.7 L563.4,303.4 L564.1,304.2 L564.7,304.9 L565.4,305.8 L566.0,306.6 L566.7,307.5 L567.3,308.4 L568.0,309.4 L568.6,310.4 L569.3,311.4 L569.9,312.5 L570.6,313.6 L571.2,314.7 L571.9,315.9 L572.5,317.1 L573.2,318.3 L573.8,319.6 L574.5,320.9 L575.1,322.2 L575.8,323.6 L576.4,325.0 L577.0,326.4 L577.7,327.9 L578.3,329.4 L579.0,331.0 L579.6,332.6 L580.3,334.3 L580.9,336.0 L581.6,337.7 L582.2,339.5 L582.9,341.3 L583.5,343.2 L584.2,345.1 L584.8,347.0 L585.5,349.0 L586.1,351.1 L586.8,353.2 L587.4,355.4 L588.1,357.6 L588.7,359.9 L589.4,362.2 L590.0,364.7 L590.7,367.1 L591.3,369.7 L591.9,372.3 L592.6,375.0 L593.2,377.8 L593.9,380.7 L594.5,383.6 L595.2,386.7 L595.8,389.9 L596.5,393.1 L597.1,396.6 L597.8,400.1 L598.4,403.8 L599.1,407.7 L599.7,411.7 L600.4,416.0 L601.0,420.5 L601.7,425.3 L602.3,430.5 L603.0,436.0 L603.6,442.0 L604.3,448.7 L604.9,456.2 L605.6,465.1 L606.2,476.3" fill="none" stroke="#1c1ca0" stroke-width="2.4" stroke-linejoin="round"/>
<path d="M608.8,442.0 L609.4,436.0 L610.1,430.5 L610.7,425.3 L611.4,420.5 L612.0,416.0 L612.7,411.7 L613.3,407.7 L614.0,403.8 L614.6,400.1 L615.3,396.6 L615.9,393.1 L616.6,389.9 L617.2,386.7 L617.9,383.6 L618.5,380.7 L619.2,377.8 L619.8,375.0 L620.5,372.3 L621.1,369.7 L621.7,367.1 L622.4,364.7 L623.0,362.2 L623.7,359.9 L624.3,357.6 L625.0,355.4 L625.6,353.2 L626.3,351.1 L626.9,349.0 L627.6,347.0 L628.2,345.1 L628.9,343.2 L629.5,341.3 L630.2,339.5 L630.8,337.7 L631.5,336.0 L632.1,334.3 L632.8,332.6 L633.4,331.0 L634.1,329.4 L634.7,327.9 L635.4,326.4 L636.0,325.0 L636.6,323.6 L637.3,322.2 L637.9,320.9 L638.6,319.6 L639.2,318.3 L639.9,317.1 L640.5,315.9 L641.2,314.7 L641.8,313.6 L642.5,312.5 L643.1,311.4 L643.8,310.4 L644.4,309.4 L645.1,308.4 L645.7,307.5 L646.4,306.6 L647.0,305.8 L647.7,304.9 L648.3,304.2 L649.0,303.4 L649.6,302.7 L650.2,302.0 L650.9,301.3 L651.5,300.7 L652.2,300.1 L652.8,299.5 L653.5,298.9 L654.1,298.4 L654.8,298.0 L655.4,297.5 L656.1,297.1 L656.7,296.7 L657.4,296.4 L658.0,296.0 L658.7,295.7 L659.3,295.5 L660.0,295.3 L660.6,295.1 L661.3,294.9 L661.9,294.7 L662.6,294.6 L663.2,294.6 L663.9,294.5 L664.5,294.5" fill="none" stroke="#1c1ca0" stroke-width="2.4" stroke-linejoin="round"/>
<path d="M490.0,476.3 L490.6,442.0" fill="none" stroke="#1c1ca0" stroke-width="2.8" stroke-dasharray="0 4.6" stroke-linecap="round"/>
<path d="M490.6,442.0 L492.2,442.0" fill="none" stroke="#1c1ca0" stroke-width="2.4" stroke-linejoin="round"/>
<path d="M606.6,476.3 L607.2,442.0" fill="none" stroke="#1c1ca0" stroke-width="2.8" stroke-dasharray="0 4.6" stroke-linecap="round"/>
<path d="M607.2,442.0 L608.8,442.0" fill="none" stroke="#1c1ca0" stroke-width="2.4" stroke-linejoin="round"/>
<rect x="85.80" y="543.40" width="244.50" height="253.60" fill="none" stroke="#111" stroke-width="2"/>
<line x1="92.20" y1="797.00" x2="92.20" y2="786.00" stroke="#111" stroke-width="2"/>
<line x1="121.15" y1="797.00" x2="121.15" y2="791.00" stroke="#111" stroke-width="2"/>
<line x1="150.10" y1="797.00" x2="150.10" y2="786.00" stroke="#111" stroke-width="2"/>
<line x1="179.05" y1="797.00" x2="179.05" y2="791.00" stroke="#111" stroke-width="2"/>
<line x1="208.00" y1="797.00" x2="208.00" y2="786.00" stroke="#111" stroke-width="2"/>
<line x1="236.95" y1="797.00" x2="236.95" y2="791.00" stroke="#111" stroke-width="2"/>
<line x1="265.90" y1="797.00" x2="265.90" y2="786.00" stroke="#111" stroke-width="2"/>
<line x1="294.85" y1="797.00" x2="294.85" y2="791.00" stroke="#111" stroke-width="2"/>
<line x1="323.80" y1="797.00" x2="323.80" y2="786.00" stroke="#111" stroke-width="2"/>
<line x1="85.80" y1="549.80" x2="96.80" y2="549.80" stroke="#111" stroke-width="2"/>
<line x1="85.80" y1="610.25" x2="96.80" y2="610.25" stroke="#111" stroke-width="2"/>
<line x1="85.80" y1="670.70" x2="96.80" y2="670.70" stroke="#111" stroke-width="2"/>
<line x1="85.80" y1="731.15" x2="96.80" y2="731.15" stroke="#111" stroke-width="2"/>
<line x1="85.80" y1="791.60" x2="96.80" y2="791.60" stroke="#111" stroke-width="2"/>
<rect x="425.30" y="543.40" width="243.90" height="253.60" fill="none" stroke="#111" stroke-width="2"/>
<line x1="431.40" y1="797.00" x2="431.40" y2="786.00" stroke="#111" stroke-width="2"/>
<line x1="460.30" y1="797.00" x2="460.30" y2="791.00" stroke="#111" stroke-width="2"/>
<line x1="489.20" y1="797.00" x2="489.20" y2="786.00" stroke="#111" stroke-width="2"/>
<line x1="518.10" y1="797.00" x2="518.10" y2="791.00" stroke="#111" stroke-width="2"/>
<line x1="547.00" y1="797.00" x2="547.00" y2="786.00" stroke="#111" stroke-width="2"/>
<line x1="575.90" y1="797.00" x2="575.90" y2="791.00" stroke="#111" stroke-width="2"/>
<line x1="604.80" y1="797.00" x2="604.80" y2="786.00" stroke="#111" stroke-width="2"/>
<line x1="633.70" y1="797.00" x2="633.70" y2="791.00" stroke="#111" stroke-width="2"/>
<line x1="662.60" y1="797.00" x2="662.60" y2="786.00" stroke="#111" stroke-width="2"/>
<line x1="425.30" y1="557.60" x2="436.30" y2="557.60" stroke="#111" stroke-width="2"/>
<line x1="425.30" y1="670.10" x2="436.30" y2="670.10" stroke="#111" stroke-width="2"/>
<line x1="425.30" y1="782.60" x2="436.30" y2="782.60" stroke="#111" stroke-width="2"/>
<line x1="425.30" y1="613.85" x2="431.30" y2="613.85" stroke="#111" stroke-width="2"/>
<line x1="425.30" y1="726.35" x2="431.30" y2="726.35" stroke="#111" stroke-width="2"/>
<path d="M92.2,791.6 L92.8,791.2 L93.5,790.7 L94.1,790.3 L94.8,789.8 L95.4,789.4 L96.1,788.9 L96.7,788.5 L97.3,788.0 L98.0,787.6 L98.6,787.1 L99.3,786.7 L99.9,786.2 L100.6,785.8 L101.2,785.3 L101.9,784.8 L102.5,784.4 L103.1,783.9 L103.8,783.5 L104.4,783.0 L105.1,782.5 L105.7,782.1 L106.4,781.6 L107.0,781.1 L107.6,780.7 L108.3,780.2 L108.9,779.7 L109.6,779.2 L110.2,778.8 L110.9,778.3 L111.5,777.8 L112.1,777.3 L112.8,776.8 L113.4,776.3 L114.1,775.8 L114.7,775.3 L115.4,774.8 L116.0,774.3 L116.6,773.8 L117.3,773.3 L117.9,772.8 L118.6,772.2 L119.2,771.7 L119.9,771.2 L120.5,770.6 L121.2,770.1 L121.8,769.5 L122.4,769.0 L123.1,768.4 L123.7,767.9 L124.4,767.3 L125.0,766.7 L125.7,766.1 L126.3,765.5 L126.9,764.9 L127.6,764.3 L128.2,763.6 L128.9,763.0 L129.5,762.4 L130.2,761.7 L130.8,761.0 L131.4,760.3 L132.1,759.6 L132.7,758.9 L133.4,758.2 L134.0,757.5 L134.7,756.7 L135.3,755.9 L135.9,755.1 L136.6,754.3 L137.2,753.5 L137.9,752.6 L138.5,751.8 L139.2,750.8 L139.8,749.9 L140.4,749.0 L141.1,748.0 L141.7,747.0 L142.4,745.9 L143.0,744.9 L143.7,743.7 L144.3,742.6 L145.0,741.4 L145.6,740.2 L146.2,739.0 L146.9,737.7 L147.5,736.5 L148.2,735.2 L148.8,733.8 L149.5,732.5 L150.1,731.2 L150.7,729.8 L151.4,728.5 L152.0,727.1 L152.7,725.8 L153.3,724.6 L154.0,723.3 L154.6,722.1 L155.2,720.9 L155.9,719.7 L156.5,718.6 L157.2,717.4 L157.8,716.4 L158.5,715.3 L159.1,714.3 L159.8,713.3 L160.4,712.4 L161.0,711.5 L161.7,710.5 L162.3,709.7 L163.0,708.8 L163.6,708.0 L164.3,707.2 L164.9,706.4 L165.5,705.6 L166.2,704.8 L166.8,704.1 L167.5,703.4 L168.1,702.7 L168.8,702.0 L169.4,701.3 L170.0,700.6 L170.7,699.9 L171.3,699.3 L172.0,698.7 L172.6,698.0 L173.3,697.4 L173.9,696.8 L174.5,696.2 L175.2,695.6 L175.8,695.0 L176.5,694.4 L177.1,693.9 L177.8,693.3 L178.4,692.8 L179.1,692.2 L179.7,691.7 L180.3,691.1 L181.0,690.6 L181.6,690.1 L182.3,689.5 L182.9,689.0 L183.6,688.5 L184.2,688.0 L184.8,687.5 L185.5,687.0 L186.1,686.5 L186.8,686.0 L187.4,685.5 L188.1,685.0 L188.7,684.5 L189.3,684.0 L190.0,683.5 L190.6,683.1 L191.3,682.6 L191.9,682.1 L192.6,681.6 L193.2,681.2 L193.8,680.7 L194.5,680.2 L195.1,679.8 L195.8,679.3 L196.4,678.8 L197.1,678.4 L197.7,677.9 L198.4,677.5 L199.0,677.0 L199.6,676.5 L200.3,676.1 L200.9,675.6 L201.6,675.2 L202.2,674.7 L202.9,674.3 L203.5,673.8 L204.1,673.4 L204.8,672.9 L205.4,672.5 L206.1,672.0 L206.7,671.6 L207.4,671.1 L208.0,670.7 L208.6,670.3 L209.3,669.8 L209.9,669.4 L210.6,668.9 L211.2,668.5 L211.9,668.0 L212.5,667.6 L213.1,667.1 L213.8,666.7 L214.4,666.2 L215.1,665.8 L215.7,665.3 L216.4,664.9 L217.0,664.4 L217.7,663.9 L218.3,663.5 L218.9,663.0 L219.6,662.6 L220.2,662.1 L220.9,661.6 L221.5,661.2 L222.2,660.7 L222.8,660.2 L223.4,659.8 L224.1,659.3 L224.7,658.8 L225.4,658.3 L226.0,657.9 L226.7,657.4 L227.3,656.9 L227.9,656.4 L228.6,655.9 L229.2,655.4 L229.9,654.9 L230.5,654.4 L231.2,653.9 L231.8,653.4 L232.4,652.9 L233.1,652.4 L233.7,651.9 L234.4,651.3 L235.0,650.8 L235.7,650.3 L236.3,649.7 L237.0,649.2 L237.6,648.6 L238.2,648.1 L238.9,647.5 L239.5,647.0 L240.2,646.4 L240.8,645.8 L241.5,645.2 L242.1,644.6 L242.7,644.0 L243.4,643.4 L244.0,642.7 L244.7,642.1 L245.3,641.5 L246.0,640.8 L246.6,640.1 L247.2,639.4 L247.9,638.7 L248.5,638.0 L249.2,637.3 L249.8,636.6 L250.5,635.8 L251.1,635.0 L251.7,634.2 L252.4,633.4 L253.0,632.6 L253.7,631.7 L254.3,630.9 L255.0,629.9 L255.6,629.0 L256.2,628.1 L256.9,627.1 L257.5,626.1 L258.2,625.0 L258.8,624.0 L259.5,622.8 L260.1,621.7 L260.8,620.5 L261.4,619.3 L262.0,618.1 L262.7,616.8 L263.3,615.6 L264.0,614.3 L264.6,612.9 L265.3,611.6 L265.9,610.3 L266.5,608.9 L267.2,607.6 L267.8,606.2 L268.5,604.9 L269.1,603.7 L269.8,602.4 L270.4,601.2 L271.0,600.0 L271.7,598.8 L272.3,597.7 L273.0,596.5 L273.6,595.5 L274.3,594.4 L274.9,593.4 L275.6,592.4 L276.2,591.5 L276.8,590.6 L277.5,589.6 L278.1,588.8 L278.8,587.9 L279.4,587.1 L280.1,586.3 L280.7,585.5 L281.3,584.7 L282.0,583.9 L282.6,583.2 L283.3,582.5 L283.9,581.8 L284.6,581.1 L285.2,580.4 L285.8,579.7 L286.5,579.0 L287.1,578.4 L287.8,577.8 L288.4,577.1 L289.1,576.5 L289.7,575.9 L290.3,575.3 L291.0,574.7 L291.6,574.1 L292.3,573.5 L292.9,573.0 L293.6,572.4 L294.2,571.9 L294.9,571.3 L295.5,570.8 L296.1,570.2 L296.8,569.7 L297.4,569.2 L298.1,568.6 L298.7,568.1 L299.4,567.6 L300.0,567.1 L300.6,566.6 L301.3,566.1 L301.9,565.6 L302.6,565.1 L303.2,564.6 L303.9,564.1 L304.5,563.6 L305.1,563.1 L305.8,562.6 L306.4,562.2 L307.1,561.7 L307.7,561.2 L308.4,560.7 L309.0,560.3 L309.6,559.8 L310.3,559.3 L310.9,558.9 L311.6,558.4 L312.2,557.9 L312.9,557.5 L313.5,557.0 L314.2,556.6 L314.8,556.1 L315.4,555.6 L316.1,555.2 L316.7,554.7 L317.4,554.3 L318.0,553.8 L318.7,553.4 L319.3,552.9 L319.9,552.5 L320.6,552.0 L321.2,551.6 L321.9,551.1 L322.5,550.7 L323.2,550.2 L323.8,549.8" fill="none" stroke="#4414c8" stroke-width="2.4" stroke-linejoin="round"/>
<path d="M431.4,557.6 L432.0,557.6 L432.7,557.7 L433.3,557.9 L434.0,558.1 L434.6,558.4 L435.3,558.7 L435.9,559.1 L436.5,559.6 L437.2,560.1 L437.8,560.6 L438.5,561.3 L439.1,562.0 L439.7,562.8 L440.4,563.6 L441.0,564.5 L441.7,565.4 L442.3,566.4 L443.0,567.5 L443.6,568.6 L444.2,569.8 L444.9,571.1 L445.5,572.4 L446.2,573.8 L446.8,575.3 L447.5,576.8 L448.1,578.4 L448.7,580.0 L449.4,581.7 L450.0,583.5 L450.7,585.3 L451.3,587.2 L452.0,589.2 L452.6,591.2 L453.2,593.3 L453.9,595.5 L454.5,597.7 L455.2,600.0 L455.8,602.4 L456.4,604.8 L457.1,607.3 L457.7,609.9 L458.4,612.5 L459.0,615.2 L459.7,618.0 L460.3,620.8 L460.9,623.7 L461.6,626.7 L462.2,629.8 L462.9,632.9 L463.5,636.1 L464.2,639.4 L464.8,642.8 L465.4,646.2 L466.1,649.7 L466.7,653.2 L467.4,656.9 L468.0,660.6 L468.6,664.4 L469.3,668.2 L469.9,672.2 L470.6,676.2 L471.2,680.2 L471.9,684.4 L472.5,688.6 L473.1,692.8 L473.8,697.1 L474.4,701.5 L475.1,706.0 L475.7,710.4 L476.4,714.9 L477.0,719.5 L477.6,724.0 L478.3,728.6 L478.9,733.2 L479.6,737.7 L480.2,742.2 L480.9,746.7 L481.5,751.0 L482.1,755.3 L482.8,759.3 L483.4,763.2 L484.1,766.9 L484.7,770.3 L485.3,773.4 L486.0,776.1 L486.6,778.3 L487.3,780.2 L487.9,781.5 L488.6,782.3 L489.2,782.6 L489.8,782.3 L490.5,781.5 L491.1,780.2 L491.8,778.3 L492.4,776.1 L493.1,773.4 L493.7,770.3 L494.3,766.9 L495.0,763.2 L495.6,759.3 L496.3,755.3 L496.9,751.0 L497.5,746.7 L498.2,742.2 L498.8,737.7 L499.5,733.2 L500.1,728.6 L500.8,724.0 L501.4,719.5 L502.0,714.9 L502.7,710.4 L503.3,706.0 L504.0,701.5 L504.6,697.1 L505.3,692.8 L505.9,688.6 L506.5,684.4 L507.2,680.2 L507.8,676.2 L508.5,672.2 L509.1,668.2 L509.8,664.4 L510.4,660.6 L511.0,656.9 L511.7,653.2 L512.3,649.7 L513.0,646.2 L513.6,642.8 L514.2,639.4 L514.9,636.1 L515.5,632.9 L516.2,629.8 L516.8,626.7 L517.5,623.7 L518.1,620.8 L518.7,618.0 L519.4,615.2 L520.0,612.5 L520.7,609.9 L521.3,607.3 L522.0,604.8 L522.6,602.4 L523.2,600.0 L523.9,597.7 L524.5,595.5 L525.2,593.3 L525.8,591.2 L526.4,589.2 L527.1,587.2 L527.7,585.3 L528.4,583.5 L529.0,581.7 L529.7,580.0 L530.3,578.4 L530.9,576.8 L531.6,575.3 L532.2,573.8 L532.9,572.4 L533.5,571.1 L534.2,569.8 L534.8,568.6 L535.4,567.5 L536.1,566.4 L536.7,565.4 L537.4,564.5 L538.0,563.6 L538.7,562.8 L539.3,562.0 L539.9,561.3 L540.6,560.6 L541.2,560.1 L541.9,559.6 L542.5,559.1 L543.1,558.7 L543.8,558.4 L544.4,558.1 L545.1,557.9 L545.7,557.7 L546.4,557.6 L547.0,557.6 L547.6,557.6 L548.3,557.7 L548.9,557.9 L549.6,558.1 L550.2,558.4 L550.9,558.7 L551.5,559.1 L552.1,559.6 L552.8,560.1 L553.4,560.6 L554.1,561.3 L554.7,562.0 L555.3,562.8 L556.0,563.6 L556.6,564.5 L557.3,565.4 L557.9,566.4 L558.6,567.5 L559.2,568.6 L559.8,569.8 L560.5,571.1 L561.1,572.4 L561.8,573.8 L562.4,575.3 L563.1,576.8 L563.7,578.4 L564.3,580.0 L565.0,581.7 L565.6,583.5 L566.3,585.3 L566.9,587.2 L567.6,589.2 L568.2,591.2 L568.8,593.3 L569.5,595.5 L570.1,597.7 L570.8,600.0 L571.4,602.4 L572.0,604.8 L572.7,607.3 L573.3,609.9 L574.0,612.5 L574.6,615.2 L575.3,618.0 L575.9,620.8 L576.5,623.7 L577.2,626.7 L577.8,629.8 L578.5,632.9 L579.1,636.1 L579.8,639.4 L580.4,642.8 L581.0,646.2 L581.7,649.7 L582.3,653.2 L583.0,656.9 L583.6,660.6 L584.2,664.4 L584.9,668.2 L585.5,672.2 L586.2,676.2 L586.8,680.2 L587.5,684.4 L588.1,688.6 L588.7,692.8 L589.4,697.1 L590.0,701.5 L590.7,706.0 L591.3,710.4 L592.0,714.9 L592.6,719.5 L593.2,724.0 L593.9,728.6 L594.5,733.2 L595.2,737.7 L595.8,742.2 L596.5,746.7 L597.1,751.0 L597.7,755.3 L598.4,759.3 L599.0,763.2 L599.7,766.9 L600.3,770.3 L600.9,773.4 L601.6,776.1 L602.2,778.3 L602.9,780.2 L603.5,781.5 L604.2,782.3 L604.8,782.6 L605.4,782.3 L606.1,781.5 L606.7,780.2 L607.4,778.3 L608.0,776.1 L608.7,773.4 L609.3,770.3 L609.9,766.9 L610.6,763.2 L611.2,759.3 L611.9,755.3 L612.5,751.0 L613.1,746.7 L613.8,742.2 L614.4,737.7 L615.1,733.2 L615.7,728.6 L616.4,724.0 L617.0,719.5 L617.6,714.9 L618.3,710.4 L618.9,706.0 L619.6,701.5 L620.2,697.1 L620.9,692.8 L621.5,688.6 L622.1,684.4 L622.8,680.2 L623.4,676.2 L624.1,672.2 L624.7,668.2 L625.4,664.4 L626.0,660.6 L626.6,656.9 L627.3,653.2 L627.9,649.7 L628.6,646.2 L629.2,642.8 L629.8,639.4 L630.5,636.1 L631.1,632.9 L631.8,629.8 L632.4,626.7 L633.1,623.7 L633.7,620.8 L634.3,618.0 L635.0,615.2 L635.6,612.5 L636.3,609.9 L636.9,607.3 L637.6,604.8 L638.2,602.4 L638.8,600.0 L639.5,597.7 L640.1,595.5 L640.8,593.3 L641.4,591.2 L642.0,589.2 L642.7,587.2 L643.3,585.3 L644.0,583.5 L644.6,581.7 L645.3,580.0 L645.9,578.4 L646.5,576.8 L647.2,575.3 L647.8,573.8 L648.5,572.4 L649.1,571.1 L649.8,569.8 L650.4,568.6 L651.0,567.5 L651.7,566.4 L652.3,565.4 L653.0,564.5 L653.6,563.6 L654.3,562.8 L654.9,562.0 L655.5,561.3 L656.2,560.6 L656.8,560.1 L657.5,559.6 L658.1,559.1 L658.7,558.7 L659.4,558.4 L660.0,558.1 L660.7,557.9 L661.3,557.7 L662.0,557.6 L662.6,557.6" fill="none" stroke="#4414c8" stroke-width="2.4" stroke-linejoin="round"/>
<path d="M92.2,791.6 L92.8,791.1 L93.5,790.5 L94.1,790.0 L94.8,789.4 L95.4,788.9 L96.1,788.4 L96.7,787.8 L97.3,787.3 L98.0,786.8 L98.6,786.2 L99.3,785.7 L99.9,785.1 L100.6,784.6 L101.2,784.0 L101.9,783.5 L102.5,782.9 L103.1,782.4 L103.8,781.8 L104.4,781.3 L105.1,780.7 L105.7,780.2 L106.4,779.6 L107.0,779.1 L107.6,778.5 L108.3,777.9 L108.9,777.4 L109.6,776.8 L110.2,776.2 L110.9,775.7 L111.5,775.1 L112.1,774.5 L112.8,773.9 L113.4,773.4 L114.1,772.8 L114.7,772.2 L115.4,771.6 L116.0,771.0 L116.6,770.4 L117.3,769.8 L117.9,769.2 L118.6,768.6 L119.2,767.9 L119.9,767.3 L120.5,766.7 L121.2,766.1 L121.8,765.4 L122.4,764.8 L123.1,764.1 L123.7,763.5 L124.4,762.8 L125.0,762.2 L125.7,761.5 L126.3,760.8 L126.9,760.1 L127.6,759.5 L128.2,758.8 L128.9,758.1 L129.5,757.4 L130.2,756.6 L130.8,755.9 L131.4,755.2 L132.1,754.5 L132.7,753.7 L133.4,753.0 L134.0,752.2 L134.7,751.5 L135.3,750.7 L135.9,749.9 L136.6,749.1 L137.2,748.3 L137.9,747.5 L138.5,746.7 L139.2,745.9 L139.8,745.1 L140.4,744.3 L141.1,743.4 L141.7,742.6 L142.4,741.7 L143.0,740.9 L143.7,740.0 L144.3,739.1 L145.0,738.3 L145.6,737.4 L146.2,736.5 L146.9,735.6 L147.5,734.7 L148.2,733.8 L148.8,732.9 L149.5,732.0 L150.1,731.2 L150.7,730.3 L151.4,729.4 L152.0,728.5 L152.7,727.6 L153.3,726.7 L154.0,725.8 L154.6,724.9 L155.2,724.0 L155.9,723.2 L156.5,722.3 L157.2,721.4 L157.8,720.6 L158.5,719.7 L159.1,718.9 L159.8,718.0 L160.4,717.2 L161.0,716.4 L161.7,715.6 L162.3,714.8 L163.0,714.0 L163.6,713.2 L164.3,712.4 L164.9,711.6 L165.5,710.8 L166.2,710.1 L166.8,709.3 L167.5,708.6 L168.1,707.8 L168.8,707.1 L169.4,706.4 L170.0,705.7 L170.7,704.9 L171.3,704.2 L172.0,703.5 L172.6,702.8 L173.3,702.2 L173.9,701.5 L174.5,700.8 L175.2,700.1 L175.8,699.5 L176.5,698.8 L177.1,698.2 L177.8,697.5 L178.4,696.9 L179.1,696.2 L179.7,695.6 L180.3,695.0 L181.0,694.4 L181.6,693.7 L182.3,693.1 L182.9,692.5 L183.6,691.9 L184.2,691.3 L184.8,690.7 L185.5,690.1 L186.1,689.5 L186.8,688.9 L187.4,688.4 L188.1,687.8 L188.7,687.2 L189.3,686.6 L190.0,686.1 L190.6,685.5 L191.3,684.9 L191.9,684.4 L192.6,683.8 L193.2,683.2 L193.8,682.7 L194.5,682.1 L195.1,681.6 L195.8,681.0 L196.4,680.5 L197.1,679.9 L197.7,679.4 L198.4,678.8 L199.0,678.3 L199.6,677.7 L200.3,677.2 L200.9,676.6 L201.6,676.1 L202.2,675.5 L202.9,675.0 L203.5,674.5 L204.1,673.9 L204.8,673.4 L205.4,672.9 L206.1,672.3 L206.7,671.8 L207.4,671.2 L208.0,670.7 L208.6,670.2 L209.3,669.6 L209.9,669.1 L210.6,668.5 L211.2,668.0 L211.9,667.5 L212.5,666.9 L213.1,666.4 L213.8,665.9 L214.4,665.3 L215.1,664.8 L215.7,664.2 L216.4,663.7 L217.0,663.1 L217.7,662.6 L218.3,662.0 L218.9,661.5 L219.6,660.9 L220.2,660.4 L220.9,659.8 L221.5,659.3 L222.2,658.7 L222.8,658.2 L223.4,657.6 L224.1,657.0 L224.7,656.5 L225.4,655.9 L226.0,655.3 L226.7,654.8 L227.3,654.2 L227.9,653.6 L228.6,653.0 L229.2,652.5 L229.9,651.9 L230.5,651.3 L231.2,650.7 L231.8,650.1 L232.4,649.5 L233.1,648.9 L233.7,648.3 L234.4,647.7 L235.0,647.0 L235.7,646.4 L236.3,645.8 L237.0,645.2 L237.6,644.5 L238.2,643.9 L238.9,643.2 L239.5,642.6 L240.2,641.9 L240.8,641.3 L241.5,640.6 L242.1,639.9 L242.7,639.2 L243.4,638.6 L244.0,637.9 L244.7,637.2 L245.3,636.5 L246.0,635.7 L246.6,635.0 L247.2,634.3 L247.9,633.6 L248.5,632.8 L249.2,632.1 L249.8,631.3 L250.5,630.6 L251.1,629.8 L251.7,629.0 L252.4,628.2 L253.0,627.4 L253.7,626.6 L254.3,625.8 L255.0,625.0 L255.6,624.2 L256.2,623.4 L256.9,622.5 L257.5,621.7 L258.2,620.8 L258.8,620.0 L259.5,619.1 L260.1,618.2 L260.8,617.4 L261.4,616.5 L262.0,615.6 L262.7,614.7 L263.3,613.8 L264.0,612.9 L264.6,612.0 L265.3,611.1 L265.9,610.3 L266.5,609.4 L267.2,608.5 L267.8,607.6 L268.5,606.7 L269.1,605.8 L269.8,604.9 L270.4,604.0 L271.0,603.1 L271.7,602.3 L272.3,601.4 L273.0,600.5 L273.6,599.7 L274.3,598.8 L274.9,598.0 L275.6,597.1 L276.2,596.3 L276.8,595.5 L277.5,594.7 L278.1,593.9 L278.8,593.1 L279.4,592.3 L280.1,591.5 L280.7,590.7 L281.3,589.9 L282.0,589.2 L282.6,588.4 L283.3,587.7 L283.9,586.9 L284.6,586.2 L285.2,585.5 L285.8,584.8 L286.5,584.0 L287.1,583.3 L287.8,582.6 L288.4,581.9 L289.1,581.3 L289.7,580.6 L290.3,579.9 L291.0,579.2 L291.6,578.6 L292.3,577.9 L292.9,577.3 L293.6,576.6 L294.2,576.0 L294.9,575.3 L295.5,574.7 L296.1,574.1 L296.8,573.5 L297.4,572.8 L298.1,572.2 L298.7,571.6 L299.4,571.0 L300.0,570.4 L300.6,569.8 L301.3,569.2 L301.9,568.6 L302.6,568.0 L303.2,567.5 L303.9,566.9 L304.5,566.3 L305.1,565.7 L305.8,565.2 L306.4,564.6 L307.1,564.0 L307.7,563.5 L308.4,562.9 L309.0,562.3 L309.6,561.8 L310.3,561.2 L310.9,560.7 L311.6,560.1 L312.2,559.6 L312.9,559.0 L313.5,558.5 L314.2,557.9 L314.8,557.4 L315.4,556.8 L316.1,556.3 L316.7,555.7 L317.4,555.2 L318.0,554.6 L318.7,554.1 L319.3,553.6 L319.9,553.0 L320.6,552.5 L321.2,552.0 L321.9,551.4 L322.5,550.9 L323.2,550.3 L323.8,549.8" fill="none" stroke="#dc1e50" stroke-width="2.4" stroke-linejoin="round"/>
<path d="M431.4,557.6 L432.0,557.6 L432.7,557.8 L433.3,558.0 L434.0,558.3 L434.6,558.7 L435.3,559.2 L435.9,559.7 L436.5,560.4 L437.2,561.1 L437.8,562.0 L438.5,562.9 L439.1,563.9 L439.7,565.0 L440.4,566.2 L441.0,567.4 L441.7,568.8 L442.3,570.2 L443.0,571.7 L443.6,573.4 L444.2,575.0 L444.9,576.8 L445.5,578.7 L446.2,580.6 L446.8,582.6 L447.5,584.8 L448.1,586.9 L448.7,589.2 L449.4,591.6 L450.0,594.0 L450.7,596.5 L451.3,599.1 L452.0,601.8 L452.6,604.5 L453.2,607.3 L453.9,610.2 L454.5,613.2 L455.2,616.2 L455.8,619.4 L456.4,622.5 L457.1,625.8 L457.7,629.1 L458.4,632.5 L459.0,635.9 L459.7,639.4 L460.3,643.0 L460.9,646.6 L461.6,650.3 L462.2,654.0 L462.9,657.8 L463.5,661.6 L464.2,665.5 L464.8,669.4 L465.4,673.3 L466.1,677.3 L466.7,681.3 L467.4,685.3 L468.0,689.3 L468.6,693.4 L469.3,697.5 L469.9,701.5 L470.6,705.6 L471.2,709.6 L471.9,713.6 L472.5,717.6 L473.1,721.6 L473.8,725.5 L474.4,729.4 L475.1,733.2 L475.7,737.0 L476.4,740.6 L477.0,744.2 L477.6,747.7 L478.3,751.1 L478.9,754.4 L479.6,757.5 L480.2,760.5 L480.9,763.3 L481.5,766.0 L482.1,768.6 L482.8,770.9 L483.4,773.1 L484.1,775.0 L484.7,776.7 L485.3,778.3 L486.0,779.6 L486.6,780.7 L487.3,781.5 L487.9,782.1 L488.6,782.5 L489.2,782.6 L489.8,782.5 L490.5,782.1 L491.1,781.5 L491.8,780.7 L492.4,779.6 L493.1,778.3 L493.7,776.7 L494.3,775.0 L495.0,773.1 L495.6,770.9 L496.3,768.6 L496.9,766.0 L497.5,763.3 L498.2,760.5 L498.8,757.5 L499.5,754.4 L500.1,751.1 L500.8,747.7 L501.4,744.2 L502.0,740.6 L502.7,737.0 L503.3,733.2 L504.0,729.4 L504.6,725.5 L505.3,721.6 L505.9,717.6 L506.5,713.6 L507.2,709.6 L507.8,705.6 L508.5,701.5 L509.1,697.5 L509.8,693.4 L510.4,689.3 L511.0,685.3 L511.7,681.3 L512.3,677.3 L513.0,673.3 L513.6,669.4 L514.2,665.5 L514.9,661.6 L515.5,657.8 L516.2,654.0 L516.8,650.3 L517.5,646.6 L518.1,643.0 L518.7,639.4 L519.4,635.9 L520.0,632.5 L520.7,629.1 L521.3,625.8 L522.0,622.5 L522.6,619.4 L523.2,616.2 L523.9,613.2 L524.5,610.2 L525.2,607.3 L525.8,604.5 L526.4,601.8 L527.1,599.1 L527.7,596.5 L528.4,594.0 L529.0,591.6 L529.7,589.2 L530.3,586.9 L530.9,584.8 L531.6,582.6 L532.2,580.6 L532.9,578.7 L533.5,576.8 L534.2,575.0 L534.8,573.4 L535.4,571.7 L536.1,570.2 L536.7,568.8 L537.4,567.4 L538.0,566.2 L538.7,565.0 L539.3,563.9 L539.9,562.9 L540.6,562.0 L541.2,561.1 L541.9,560.4 L542.5,559.7 L543.1,559.2 L543.8,558.7 L544.4,558.3 L545.1,558.0 L545.7,557.8 L546.4,557.6 L547.0,557.6 L547.6,557.6 L548.3,557.8 L548.9,558.0 L549.6,558.3 L550.2,558.7 L550.9,559.2 L551.5,559.7 L552.1,560.4 L552.8,561.1 L553.4,562.0 L554.1,562.9 L554.7,563.9 L555.3,565.0 L556.0,566.2 L556.6,567.4 L557.3,568.8 L557.9,570.2 L558.6,571.7 L559.2,573.4 L559.8,575.0 L560.5,576.8 L561.1,578.7 L561.8,580.6 L562.4,582.6 L563.1,584.8 L563.7,586.9 L564.3,589.2 L565.0,591.6 L565.6,594.0 L566.3,596.5 L566.9,599.1 L567.6,601.8 L568.2,604.5 L568.8,607.3 L569.5,610.2 L570.1,613.2 L570.8,616.2 L571.4,619.4 L572.0,622.5 L572.7,625.8 L573.3,629.1 L574.0,632.5 L574.6,635.9 L575.3,639.4 L575.9,643.0 L576.5,646.6 L577.2,650.3 L577.8,654.0 L578.5,657.8 L579.1,661.6 L579.8,665.5 L580.4,669.4 L581.0,673.3 L581.7,677.3 L582.3,681.3 L583.0,685.3 L583.6,689.3 L584.2,693.4 L584.9,697.5 L585.5,701.5 L586.2,705.6 L586.8,709.6 L587.5,713.6 L588.1,717.6 L588.7,721.6 L589.4,725.5 L590.0,729.4 L590.7,733.2 L591.3,737.0 L592.0,740.6 L592.6,744.2 L593.2,747.7 L593.9,751.1 L594.5,754.4 L595.2,757.5 L595.8,760.5 L596.5,763.3 L597.1,766.0 L597.7,768.6 L598.4,770.9 L599.0,773.1 L599.7,775.0 L600.3,776.7 L600.9,778.3 L601.6,779.6 L602.2,780.7 L602.9,781.5 L603.5,782.1 L604.2,782.5 L604.8,782.6 L605.4,782.5 L606.1,782.1 L606.7,781.5 L607.4,780.7 L608.0,779.6 L608.7,778.3 L609.3,776.7 L609.9,775.0 L610.6,773.1 L611.2,770.9 L611.9,768.6 L612.5,766.0 L613.1,763.3 L613.8,760.5 L614.4,757.5 L615.1,754.4 L615.7,751.1 L616.4,747.7 L617.0,744.2 L617.6,740.6 L618.3,737.0 L618.9,733.2 L619.6,729.4 L620.2,725.5 L620.9,721.6 L621.5,717.6 L622.1,713.6 L622.8,709.6 L623.4,705.6 L624.1,701.5 L624.7,697.5 L625.4,693.4 L626.0,689.3 L626.6,685.3 L627.3,681.3 L627.9,677.3 L628.6,673.3 L629.2,669.4 L629.8,665.5 L630.5,661.6 L631.1,657.8 L631.8,654.0 L632.4,650.3 L633.1,646.6 L633.7,643.0 L634.3,639.4 L635.0,635.9 L635.6,632.5 L636.3,629.1 L636.9,625.8 L637.6,622.5 L638.2,619.4 L638.8,616.2 L639.5,613.2 L640.1,610.2 L640.8,607.3 L641.4,604.5 L642.0,601.8 L642.7,599.1 L643.3,596.5 L644.0,594.0 L644.6,591.6 L645.3,589.2 L645.9,586.9 L646.5,584.8 L647.2,582.6 L647.8,580.6 L648.5,578.7 L649.1,576.8 L649.8,575.0 L650.4,573.4 L651.0,571.7 L651.7,570.2 L652.3,568.8 L653.0,567.4 L653.6,566.2 L654.3,565.0 L654.9,563.9 L655.5,562.9 L656.2,562.0 L656.8,561.1 L657.5,560.4 L658.1,559.7 L658.7,559.2 L659.4,558.7 L660.0,558.3 L660.7,558.0 L661.3,557.8 L662.0,557.6 L662.6,557.6" fill="none" stroke="#dc1e50" stroke-width="2.4" stroke-linejoin="round"/>
<path d="M92.2,791.6 L92.8,791.0 L93.5,790.3 L94.1,789.7 L94.8,789.0 L95.4,788.4 L96.1,787.8 L96.7,787.1 L97.3,786.5 L98.0,785.8 L98.6,785.2 L99.3,784.6 L99.9,783.9 L100.6,783.3 L101.2,782.6 L101.9,782.0 L102.5,781.3 L103.1,780.7 L103.8,780.1 L104.4,779.4 L105.1,778.8 L105.7,778.1 L106.4,777.5 L107.0,776.8 L107.6,776.2 L108.3,775.5 L108.9,774.9 L109.6,774.2 L110.2,773.6 L110.9,772.9 L111.5,772.3 L112.1,771.6 L112.8,771.0 L113.4,770.3 L114.1,769.6 L114.7,769.0 L115.4,768.3 L116.0,767.7 L116.6,767.0 L117.3,766.3 L117.9,765.7 L118.6,765.0 L119.2,764.3 L119.9,763.7 L120.5,763.0 L121.2,762.3 L121.8,761.7 L122.4,761.0 L123.1,760.3 L123.7,759.6 L124.4,759.0 L125.0,758.3 L125.7,757.6 L126.3,756.9 L126.9,756.3 L127.6,755.6 L128.2,754.9 L128.9,754.2 L129.5,753.5 L130.2,752.8 L130.8,752.2 L131.4,751.5 L132.1,750.8 L132.7,750.1 L133.4,749.4 L134.0,748.7 L134.7,748.0 L135.3,747.3 L135.9,746.6 L136.6,745.9 L137.2,745.2 L137.9,744.5 L138.5,743.8 L139.2,743.1 L139.8,742.4 L140.4,741.7 L141.1,741.0 L141.7,740.3 L142.4,739.6 L143.0,738.9 L143.7,738.2 L144.3,737.5 L145.0,736.8 L145.6,736.1 L146.2,735.4 L146.9,734.7 L147.5,734.0 L148.2,733.3 L148.8,732.6 L149.5,731.9 L150.1,731.2 L150.7,730.4 L151.4,729.7 L152.0,729.0 L152.7,728.3 L153.3,727.6 L154.0,726.9 L154.6,726.2 L155.2,725.5 L155.9,724.8 L156.5,724.1 L157.2,723.4 L157.8,722.7 L158.5,722.0 L159.1,721.3 L159.8,720.6 L160.4,719.9 L161.0,719.2 L161.7,718.5 L162.3,717.8 L163.0,717.1 L163.6,716.4 L164.3,715.7 L164.9,715.0 L165.5,714.3 L166.2,713.6 L166.8,712.9 L167.5,712.2 L168.1,711.5 L168.8,710.8 L169.4,710.1 L170.0,709.5 L170.7,708.8 L171.3,708.1 L172.0,707.4 L172.6,706.7 L173.3,706.0 L173.9,705.4 L174.5,704.7 L175.2,704.0 L175.8,703.3 L176.5,702.7 L177.1,702.0 L177.8,701.3 L178.4,700.6 L179.1,700.0 L179.7,699.3 L180.3,698.6 L181.0,698.0 L181.6,697.3 L182.3,696.6 L182.9,696.0 L183.6,695.3 L184.2,694.6 L184.8,694.0 L185.5,693.3 L186.1,692.7 L186.8,692.0 L187.4,691.3 L188.1,690.7 L188.7,690.0 L189.3,689.4 L190.0,688.7 L190.6,688.1 L191.3,687.4 L191.9,686.8 L192.6,686.1 L193.2,685.5 L193.8,684.8 L194.5,684.2 L195.1,683.5 L195.8,682.9 L196.4,682.2 L197.1,681.6 L197.7,681.0 L198.4,680.3 L199.0,679.7 L199.6,679.0 L200.3,678.4 L200.9,677.7 L201.6,677.1 L202.2,676.5 L202.9,675.8 L203.5,675.2 L204.1,674.5 L204.8,673.9 L205.4,673.3 L206.1,672.6 L206.7,672.0 L207.4,671.3 L208.0,670.7 L208.6,670.1 L209.3,669.4 L209.9,668.8 L210.6,668.1 L211.2,667.5 L211.9,666.9 L212.5,666.2 L213.1,665.6 L213.8,664.9 L214.4,664.3 L215.1,663.7 L215.7,663.0 L216.4,662.4 L217.0,661.7 L217.7,661.1 L218.3,660.4 L218.9,659.8 L219.6,659.2 L220.2,658.5 L220.9,657.9 L221.5,657.2 L222.2,656.6 L222.8,655.9 L223.4,655.3 L224.1,654.6 L224.7,654.0 L225.4,653.3 L226.0,652.7 L226.7,652.0 L227.3,651.4 L227.9,650.7 L228.6,650.1 L229.2,649.4 L229.9,648.7 L230.5,648.1 L231.2,647.4 L231.8,646.8 L232.4,646.1 L233.1,645.4 L233.7,644.8 L234.4,644.1 L235.0,643.4 L235.7,642.8 L236.3,642.1 L237.0,641.4 L237.6,640.8 L238.2,640.1 L238.9,639.4 L239.5,638.7 L240.2,638.1 L240.8,637.4 L241.5,636.7 L242.1,636.0 L242.7,635.4 L243.4,634.7 L244.0,634.0 L244.7,633.3 L245.3,632.6 L246.0,631.9 L246.6,631.3 L247.2,630.6 L247.9,629.9 L248.5,629.2 L249.2,628.5 L249.8,627.8 L250.5,627.1 L251.1,626.4 L251.7,625.7 L252.4,625.0 L253.0,624.3 L253.7,623.6 L254.3,622.9 L255.0,622.2 L255.6,621.5 L256.2,620.8 L256.9,620.1 L257.5,619.4 L258.2,618.7 L258.8,618.0 L259.5,617.3 L260.1,616.6 L260.8,615.9 L261.4,615.2 L262.0,614.5 L262.7,613.8 L263.3,613.1 L264.0,612.4 L264.6,611.7 L265.3,611.0 L265.9,610.3 L266.5,609.5 L267.2,608.8 L267.8,608.1 L268.5,607.4 L269.1,606.7 L269.8,606.0 L270.4,605.3 L271.0,604.6 L271.7,603.9 L272.3,603.2 L273.0,602.5 L273.6,601.8 L274.3,601.1 L274.9,600.4 L275.6,599.7 L276.2,599.0 L276.8,598.3 L277.5,597.6 L278.1,596.9 L278.8,596.2 L279.4,595.5 L280.1,594.8 L280.7,594.1 L281.3,593.4 L282.0,592.7 L282.6,592.0 L283.3,591.3 L283.9,590.6 L284.6,589.9 L285.2,589.2 L285.8,588.6 L286.5,587.9 L287.1,587.2 L287.8,586.5 L288.4,585.8 L289.1,585.1 L289.7,584.5 L290.3,583.8 L291.0,583.1 L291.6,582.4 L292.3,581.8 L292.9,581.1 L293.6,580.4 L294.2,579.7 L294.9,579.1 L295.5,578.4 L296.1,577.7 L296.8,577.1 L297.4,576.4 L298.1,575.7 L298.7,575.1 L299.4,574.4 L300.0,573.7 L300.6,573.1 L301.3,572.4 L301.9,571.8 L302.6,571.1 L303.2,570.4 L303.9,569.8 L304.5,569.1 L305.1,568.5 L305.8,567.8 L306.4,567.2 L307.1,566.5 L307.7,565.9 L308.4,565.2 L309.0,564.6 L309.6,563.9 L310.3,563.3 L310.9,562.6 L311.6,562.0 L312.2,561.3 L312.9,560.7 L313.5,560.1 L314.2,559.4 L314.8,558.8 L315.4,558.1 L316.1,557.5 L316.7,556.8 L317.4,556.2 L318.0,555.6 L318.7,554.9 L319.3,554.3 L319.9,553.6 L320.6,553.0 L321.2,552.4 L321.9,551.7 L322.5,551.1 L323.2,550.4 L323.8,549.8" fill="none" stroke="#111111" stroke-width="2.4" stroke-linejoin="round"/>
<path d="M431.4,557.6 L432.0,557.7 L432.7,557.8 L433.3,558.2 L434.0,558.6 L434.6,559.2 L435.3,559.8 L435.9,560.6 L436.5,561.6 L437.2,562.6 L437.8,563.8 L438.5,565.1 L439.1,566.5 L439.7,568.0 L440.4,569.6 L441.0,571.4 L441.7,573.2 L442.3,575.2 L443.0,577.3 L443.6,579.4 L444.2,581.7 L444.9,584.1 L445.5,586.6 L446.2,589.2 L446.8,591.9 L447.5,594.6 L448.1,597.5 L448.7,600.5 L449.4,603.5 L450.0,606.6 L450.7,609.8 L451.3,613.1 L452.0,616.4 L452.6,619.8 L453.2,623.3 L453.9,626.8 L454.5,630.4 L455.2,634.0 L455.8,637.7 L456.4,641.4 L457.1,645.2 L457.7,649.0 L458.4,652.8 L459.0,656.7 L459.7,660.6 L460.3,664.5 L460.9,668.4 L461.6,672.3 L462.2,676.3 L462.9,680.2 L463.5,684.1 L464.2,688.0 L464.8,691.9 L465.4,695.8 L466.1,699.7 L466.7,703.5 L467.4,707.3 L468.0,711.0 L468.6,714.7 L469.3,718.4 L469.9,722.0 L470.6,725.5 L471.2,729.0 L471.9,732.4 L472.5,735.7 L473.1,738.9 L473.8,742.1 L474.4,745.2 L475.1,748.2 L475.7,751.0 L476.4,753.8 L477.0,756.5 L477.6,759.0 L478.3,761.5 L478.9,763.8 L479.6,766.0 L480.2,768.1 L480.9,770.1 L481.5,771.9 L482.1,773.6 L482.8,775.1 L483.4,776.5 L484.1,777.8 L484.7,778.9 L485.3,779.9 L486.0,780.7 L486.6,781.4 L487.3,781.9 L487.9,782.3 L488.6,782.5 L489.2,782.6 L489.8,782.5 L490.5,782.3 L491.1,781.9 L491.8,781.4 L492.4,780.7 L493.1,779.9 L493.7,778.9 L494.3,777.8 L495.0,776.5 L495.6,775.1 L496.3,773.6 L496.9,771.9 L497.5,770.1 L498.2,768.1 L498.8,766.0 L499.5,763.8 L500.1,761.5 L500.8,759.0 L501.4,756.5 L502.0,753.8 L502.7,751.0 L503.3,748.2 L504.0,745.2 L504.6,742.1 L505.3,738.9 L505.9,735.7 L506.5,732.4 L507.2,729.0 L507.8,725.5 L508.5,722.0 L509.1,718.4 L509.8,714.7 L510.4,711.0 L511.0,707.3 L511.7,703.5 L512.3,699.7 L513.0,695.8 L513.6,691.9 L514.2,688.0 L514.9,684.1 L515.5,680.2 L516.2,676.3 L516.8,672.3 L517.5,668.4 L518.1,664.5 L518.7,660.6 L519.4,656.7 L520.0,652.8 L520.7,649.0 L521.3,645.2 L522.0,641.4 L522.6,637.7 L523.2,634.0 L523.9,630.4 L524.5,626.8 L525.2,623.3 L525.8,619.8 L526.4,616.4 L527.1,613.1 L527.7,609.8 L528.4,606.6 L529.0,603.5 L529.7,600.5 L530.3,597.5 L530.9,594.6 L531.6,591.9 L532.2,589.2 L532.9,586.6 L533.5,584.1 L534.2,581.7 L534.8,579.4 L535.4,577.3 L536.1,575.2 L536.7,573.2 L537.4,571.4 L538.0,569.6 L538.7,568.0 L539.3,566.5 L539.9,565.1 L540.6,563.8 L541.2,562.6 L541.9,561.6 L542.5,560.6 L543.1,559.8 L543.8,559.2 L544.4,558.6 L545.1,558.2 L545.7,557.8 L546.4,557.7 L547.0,557.6 L547.6,557.7 L548.3,557.8 L548.9,558.2 L549.6,558.6 L550.2,559.2 L550.9,559.8 L551.5,560.6 L552.1,561.6 L552.8,562.6 L553.4,563.8 L554.1,565.1 L554.7,566.5 L555.3,568.0 L556.0,569.6 L556.6,571.4 L557.3,573.2 L557.9,575.2 L558.6,577.3 L559.2,579.4 L559.8,581.7 L560.5,584.1 L561.1,586.6 L561.8,589.2 L562.4,591.9 L563.1,594.6 L563.7,597.5 L564.3,600.5 L565.0,603.5 L565.6,606.6 L566.3,609.8 L566.9,613.1 L567.6,616.4 L568.2,619.8 L568.8,623.3 L569.5,626.8 L570.1,630.4 L570.8,634.0 L571.4,637.7 L572.0,641.4 L572.7,645.2 L573.3,649.0 L574.0,652.8 L574.6,656.7 L575.3,660.6 L575.9,664.5 L576.5,668.4 L577.2,672.3 L577.8,676.3 L578.5,680.2 L579.1,684.1 L579.8,688.0 L580.4,691.9 L581.0,695.8 L581.7,699.7 L582.3,703.5 L583.0,707.3 L583.6,711.0 L584.2,714.7 L584.9,718.4 L585.5,722.0 L586.2,725.5 L586.8,729.0 L587.5,732.4 L588.1,735.7 L588.7,738.9 L589.4,742.1 L590.0,745.2 L590.7,748.2 L591.3,751.0 L592.0,753.8 L592.6,756.5 L593.2,759.0 L593.9,761.5 L594.5,763.8 L595.2,766.0 L595.8,768.1 L596.5,770.1 L597.1,771.9 L597.7,773.6 L598.4,775.1 L599.0,776.5 L599.7,777.8 L600.3,778.9 L600.9,779.9 L601.6,780.7 L602.2,781.4 L602.9,781.9 L603.5,782.3 L604.2,782.5 L604.8,782.6 L605.4,782.5 L606.1,782.3 L606.7,781.9 L607.4,781.4 L608.0,780.7 L608.7,779.9 L609.3,778.9 L609.9,777.8 L610.6,776.5 L611.2,775.1 L611.9,773.6 L612.5,771.9 L613.1,770.1 L613.8,768.1 L614.4,766.0 L615.1,763.8 L615.7,761.5 L616.4,759.0 L617.0,756.5 L617.6,753.8 L618.3,751.0 L618.9,748.2 L619.6,745.2 L620.2,742.1 L620.9,738.9 L621.5,735.7 L622.1,732.4 L622.8,729.0 L623.4,725.5 L624.1,722.0 L624.7,718.4 L625.4,714.7 L626.0,711.0 L626.6,707.3 L627.3,703.5 L627.9,699.7 L628.6,695.8 L629.2,691.9 L629.8,688.0 L630.5,684.1 L631.1,680.2 L631.8,676.3 L632.4,672.3 L633.1,668.4 L633.7,664.5 L634.3,660.6 L635.0,656.7 L635.6,652.8 L636.3,649.0 L636.9,645.2 L637.6,641.4 L638.2,637.7 L638.8,634.0 L639.5,630.4 L640.1,626.8 L640.8,623.3 L641.4,619.8 L642.0,616.4 L642.7,613.1 L643.3,609.8 L644.0,606.6 L644.6,603.5 L645.3,600.5 L645.9,597.5 L646.5,594.6 L647.2,591.9 L647.8,589.2 L648.5,586.6 L649.1,584.1 L649.8,581.7 L650.4,579.4 L651.0,577.3 L651.7,575.2 L652.3,573.2 L653.0,571.4 L653.6,569.6 L654.3,568.0 L654.9,566.5 L655.5,565.1 L656.2,563.8 L656.8,562.6 L657.5,561.6 L658.1,560.6 L658.7,559.8 L659.4,559.2 L660.0,558.6 L660.7,558.2 L661.3,557.8 L662.0,557.7 L662.6,557.6" fill="none" stroke="#111111" stroke-width="2.4" stroke-linejoin="round"/>
<text transform="translate(79.2 62.8) scale(0.98 1.06)" font-size="23.5" text-anchor="end">20</text>
<text transform="translate(79.2 107.6) scale(0.98 1.06)" font-size="23.5" text-anchor="end">10</text>
<text transform="translate(79.2 152.4) scale(0.98 1.06)" font-size="23.5" text-anchor="end">0</text>
<text transform="translate(79.2 197.2) scale(0.98 1.06)" font-size="23.5" text-anchor="end">-10</text>
<text transform="translate(79.2 242.0) scale(0.98 1.06)" font-size="23.5" text-anchor="end">-20</text>
<text transform="translate(421.5 40.3) scale(0.98 1.06)" font-size="23.5" text-anchor="end">102</text>
<text transform="translate(421.5 152.4) scale(0.98 1.06)" font-size="23.5" text-anchor="end">101</text>
<text transform="translate(421.5 264.5) scale(0.98 1.06)" font-size="23.5" text-anchor="end">100</text>
<text transform="translate(79.5 294.3) scale(0.98 1.06)" font-size="23.5" text-anchor="end">360</text>
<text transform="translate(79.5 354.6) scale(0.98 1.06)" font-size="23.5" text-anchor="end">270</text>
<text transform="translate(79.5 414.9) scale(0.98 1.06)" font-size="23.5" text-anchor="end">180</text>
<text transform="translate(79.5 475.2) scale(0.98 1.06)" font-size="23.5" text-anchor="end">90</text>
<text transform="translate(79.5 535.5) scale(0.98 1.06)" font-size="23.5" text-anchor="end">0</text>
<text transform="translate(421.0 302.7) scale(0.98 1.06)" font-size="23.5" text-anchor="end">102</text>
<text transform="translate(421.0 414.9) scale(0.98 1.06)" font-size="23.5" text-anchor="end">101</text>
<text transform="translate(421.0 527.1) scale(0.98 1.06)" font-size="23.5" text-anchor="end">100</text>
<text transform="translate(79.8 558.0) scale(0.98 1.06)" font-size="23.5" text-anchor="end">360</text>
<text transform="translate(79.8 618.5) scale(0.98 1.06)" font-size="23.5" text-anchor="end">270</text>
<text transform="translate(79.8 678.9) scale(0.98 1.06)" font-size="23.5" text-anchor="end">180</text>
<text transform="translate(79.8 739.4) scale(0.98 1.06)" font-size="23.5" text-anchor="end">90</text>
<text transform="translate(79.8 799.8) scale(0.98 1.06)" font-size="23.5" text-anchor="end">0</text>
<text transform="translate(418.2 565.8) scale(0.98 1.06)" font-size="23.5" text-anchor="end">102</text>
<text transform="translate(418.2 678.3) scale(0.98 1.06)" font-size="23.5" text-anchor="end">101</text>
<text transform="translate(418.2 790.8) scale(0.98 1.06)" font-size="23.5" text-anchor="end">100</text>
<text transform="translate(92.2 819.3) scale(0.98 1.06)" font-size="23.5" text-anchor="middle">0</text>
<text transform="translate(431.4 825.8) scale(0.98 1.06)" font-size="23.5" text-anchor="middle">0</text>
<text transform="translate(150.1 819.3) scale(0.98 1.06)" font-size="23.5" text-anchor="middle">90</text>
<text transform="translate(489.2 825.8) scale(0.98 1.06)" font-size="23.5" text-anchor="middle">90</text>
<text transform="translate(208.0 819.3) scale(0.98 1.06)" font-size="23.5" text-anchor="middle">180</text>
<text transform="translate(547.0 825.8) scale(0.98 1.06)" font-size="23.5" text-anchor="middle">180</text>
<text transform="translate(265.9 819.3) scale(0.98 1.06)" font-size="23.5" text-anchor="middle">270</text>
<text transform="translate(604.8 825.8) scale(0.98 1.06)" font-size="23.5" text-anchor="middle">270</text>
<text transform="translate(323.8 819.3) scale(0.98 1.06)" font-size="23.5" text-anchor="middle">360</text>
<text transform="translate(662.6 825.8) scale(0.98 1.06)" font-size="23.5" text-anchor="middle">360</text>
<text x="1.70" y="21.00" font-size="25" text-anchor="start" >(a)</text>
<text x="346.00" y="21.00" font-size="25" text-anchor="start" >(b)</text>
<text x="1.70" y="294.40" font-size="25" text-anchor="start" >(c)</text>
<text x="353.60" y="295.00" font-size="25" text-anchor="start" >(d)</text>
<text x="1.70" y="556.10" font-size="25" text-anchor="start" >(e)</text>
<text x="346.60" y="555.80" font-size="25" text-anchor="start" >(f)</text>
<text x="28.20" y="140.10" font-size="24.5" text-anchor="middle" transform="rotate(-90 28.20 140.10)">θ (degrees)</text>
<text x="28.20" y="404.00" font-size="24.5" text-anchor="middle" transform="rotate(-90 28.20 404.00)">θ (degrees)</text>
<text x="28.20" y="665.50" font-size="24.5" text-anchor="middle" transform="rotate(-90 28.20 665.50)">θ(degrees)</text>
<text x="364.80" y="143.30" font-size="24.2" text-anchor="middle" transform="rotate(-90 364.80 143.30)">R (Ohm)</text>
<text x="364.80" y="401.40" font-size="24.2" text-anchor="middle" transform="rotate(-90 364.80 401.40)">R (Ohm)</text>
<text x="364.80" y="665.90" font-size="24.2" text-anchor="middle" transform="rotate(-90 364.80 665.90)">R (Ohm)</text>
<text x="159" y="841.5" font-size="24.2">θ<tspan font-size="19.5" dx="1.5" dy="8.5">0</tspan><tspan dx="-0.5" dy="-8.5"> (degrees)</tspan></text>
<text x="499" y="841.5" font-size="24.2">θ<tspan font-size="19.5" dx="1.5" dy="8.5">0</tspan><tspan dx="-0.5" dy="-8.5"> (degrees)</tspan></text>
<text x="125.00" y="157.50" font-size="23" text-anchor="start" >h=</text>
<line x1="104.00" y1="178.80" x2="149.60" y2="178.80" stroke="#1a1a1a" stroke-width="2.2"/>
<text transform="translate(158.5 185.8) scale(0.98 1.06)" font-size="23">0.1</text>
<line x1="104.00" y1="206.30" x2="149.60" y2="206.30" stroke="#b01620" stroke-width="2.2"/>
<text transform="translate(158.5 213.3) scale(0.98 1.06)" font-size="23">0.2</text>
<line x1="104.00" y1="233.80" x2="149.60" y2="233.80" stroke="#f29a22" stroke-width="2.2"/>
<text transform="translate(158.5 240.8) scale(0.98 1.06)" font-size="23">0.4</text>
<text x="125.00" y="306.30" font-size="23" text-anchor="start" >h=</text>
<line x1="104.00" y1="326.70" x2="149.60" y2="326.70" stroke="#2f7f1f" stroke-width="2.2"/>
<text transform="translate(158.5 333.7) scale(0.98 1.06)" font-size="23">0.5</text>
<line x1="104.00" y1="354.70" x2="149.60" y2="354.70" stroke="#3fe3f0" stroke-width="2.2"/>
<text transform="translate(158.5 361.7) scale(0.98 1.06)" font-size="23">0.6</text>
<line x1="104.00" y1="381.90" x2="149.60" y2="381.90" stroke="#1c1ca0" stroke-width="2.2"/>
<text transform="translate(158.5 388.9) scale(0.98 1.06)" font-size="23">0.9</text>
<text x="125.00" y="574.50" font-size="23" text-anchor="start" >h=</text>
<line x1="104.00" y1="594.80" x2="149.60" y2="594.80" stroke="#4414c8" stroke-width="2.2"/>
<text transform="translate(158.5 601.8) scale(0.98 1.06)" font-size="23">2.0</text>
<line x1="104.00" y1="622.80" x2="149.60" y2="622.80" stroke="#dc1e50" stroke-width="2.2"/>
<text transform="translate(158.5 629.8) scale(0.98 1.06)" font-size="23">4.0</text>
<line x1="104.00" y1="649.90" x2="149.60" y2="649.90" stroke="#111111" stroke-width="2.2"/>
<text transform="translate(158.5 656.9) scale(0.98 1.06)" font-size="23">20</text></svg></body></html>
